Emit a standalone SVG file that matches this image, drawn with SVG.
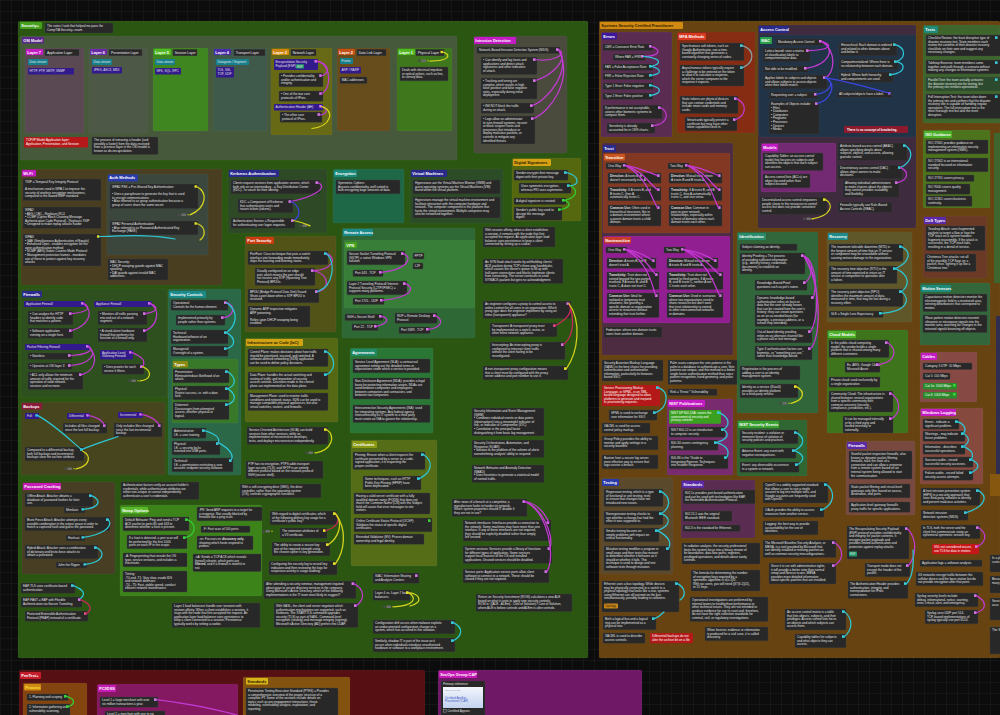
<svg xmlns="http://www.w3.org/2000/svg" width="1000" height="715" viewBox="0 0 1000 715">
<defs>
<pattern id="grid" width="11" height="11" patternUnits="userSpaceOnUse"><path d="M11 0H0V11" fill="none" stroke="#2c2c2c" stroke-width=".6"/></pattern>
<linearGradient id="card" x1="0" y1="0" x2="0" y2="1"><stop offset="0" stop-color="#f4f6fb"/><stop offset="1" stop-color="#c3d2f0"/></linearGradient>
<g id="hd"><circle cx="1.3" cy="1.3" r="1.3" fill="#4a4a4a"/><rect x="3.4" y="0" width="4.6" height="2.6" rx=".7" fill="#6c6c6c"/><circle cx="10" cy="1.3" r=".7" fill="#d6d41e"/></g>
</defs>
<style>
.grp{fill-opacity:.9;stroke:#fff;stroke-opacity:.07;stroke-width:.5}
.n{fill:#282828;stroke:#404040;stroke-width:.35}
.t{font-family:'Liberation Sans',Arial,sans-serif;font-size:3.1px;fill:#e2e2e2}
.tl{font-family:'Liberation Sans',Arial,sans-serif;font-size:3.3px;fill:#f0f0f0}
.b{font-family:'Liberation Sans',Arial,sans-serif;font-size:3.9px;font-weight:bold;fill:#fff}
.bk{font-family:'Liberation Sans',Arial,sans-serif;font-size:3.9px;font-weight:bold;fill:#2a1a00}
.c{fill:none;stroke-width:1.25;stroke-linecap:round}
.cm{stroke:#c23ad2}.cc{stroke:#2ec6d6}.cy{stroke:#d6d41e}.cb{stroke:#3c46e0}.cg{stroke:#34d034}.cr{stroke:#c8285a}.cw{stroke:#8aa0a4}
.pm{fill:#d47ae4}.pc{fill:#3ccbd8}.py{fill:#e6e428}.pg{fill:#3cd43c}.pr{fill:#e05080}
</style>
<rect width="1000" height="715" fill="#0c0c0c"/>
<rect width="1000" height="715" fill="url(#grid)"/>

<!-- ================= SECURITY+ ================= -->
<g id="security-plus"><rect class="grp" x="18" y="21" width="570" height="637" rx="1.5" fill="#2f5e13"/><rect x="20" y="22" width="22" height="7" rx="1" fill="#45a01e"/><text class="b" x="21.3" y="27">Security+</text></g>
<g id="n-intro"><rect class="n" x="45" y="23" width="68" height="10" rx="1"/><text class="t" x="47" y="26.9">The notes I took that helped me pass the<tspan x="47" dy="3.6">CompTIA Security+ exam.</tspan></text></g>

<g id="osi-model"><rect class="grp" x="20" y="36" width="437" height="124" rx="1.5" fill="#4a5a40"/><rect x="22" y="37" width="22" height="6.5" rx="1" fill="#5a2a8a"/><text class="b" x="23.2" y="41.8">OSI Model</text></g>

<g id="layer7"><rect class="grp" x="25" y="48" width="59" height="85" rx="1.5" fill="#5c4656"/>
<rect x="26" y="49" width="17" height="6" rx="1" fill="#c41cc4"/><text class="b" x="27.3" y="53.5">Layer 7</text>
<rect class="n" x="45" y="49.3" width="34" height="6.5"/><text class="tl" x="47" y="53.7">Application Layer</text>
<rect x="28" y="59" width="20" height="6" rx="1" fill="#17808e"/><text class="t" x="29.5" y="63.1">Data stream</text>
<rect x="28" y="68" width="46" height="6.5" rx="1" fill="#321a8c"/><text class="t" x="29.5" y="72.3">HTTP, FTP, SMTP, SNMP</text></g>

<g id="layer6"><rect class="grp" x="89" y="48" width="58" height="85" rx="1.5" fill="#4e5848"/>
<rect x="90" y="49" width="17" height="6" rx="1" fill="#6a2aa8"/><text class="b" x="91.3" y="53.5">Layer 6</text>
<rect class="n" x="109" y="49.3" width="33" height="6.5"/><text class="tl" x="111" y="53.7">Presentation Layer</text>
<rect x="92" y="59" width="20" height="6" rx="1" fill="#17808e"/><text class="t" x="93.5" y="63.1">Data stream</text>
<rect x="92" y="67" width="30" height="6.5" rx="1" fill="#321a8c"/><text class="t" x="93.5" y="71.3">JPEG, ASCII, MIDI</text></g>

<g id="layer5"><rect class="grp" x="153" y="48" width="55" height="83" rx="1.5" fill="#3e8a1e"/>
<rect x="154" y="49" width="17" height="6" rx="1" fill="#52b826"/><text class="b" x="155.3" y="53.5">Layer 5</text>
<rect class="n" x="173" y="49.3" width="24" height="6.5"/><text class="tl" x="174.7" y="53.7">Session Layer</text>
<rect x="155" y="59" width="20" height="6" rx="1" fill="#17808e"/><text class="t" x="156.5" y="63.1">Data stream</text>
<rect x="155" y="68" width="26" height="6.5" rx="1" fill="#321a8c"/><text class="t" x="156.5" y="72.3">NFS, SQL, RPC</text></g>

<g id="layer4"><rect class="grp" x="213" y="48" width="54" height="83" rx="1.5" fill="#3e5a4c"/>
<rect x="214" y="49" width="17" height="6" rx="1" fill="#4a2aa8"/><text class="b" x="215.3" y="53.5">Layer 4</text>
<rect class="n" x="234" y="49.3" width="31" height="6.5"/><text class="tl" x="235.7" y="53.7">Transport Layer</text>
<rect x="216" y="59" width="33" height="6" rx="1" fill="#17808e"/><text class="t" x="217.5" y="63.1">Datagram / Segment</text>
<rect x="216" y="67" width="18" height="10.5" rx="1" fill="#321a8c"/><text class="t" x="217.5" y="71.2">TLS, SSL<tspan x="217.5" dy="3.6">TCP, UDP</tspan></text></g>

<g id="layer3"><rect class="grp" x="271" y="48" width="61" height="87" rx="1.5" fill="#6a6a12"/>
<rect x="272" y="49" width="17" height="6" rx="1" fill="#d0860e"/><text class="b" x="273.3" y="53.5">Layer 3</text>
<rect class="n" x="291" y="49.3" width="25" height="6.5"/><text class="tl" x="292.7" y="53.7">Network Layer</text>
<rect x="274" y="59" width="44" height="11" rx="1" fill="#321a8c"/><text class="t" x="275.5" y="63">Encapsulation Security<tspan x="275.5" dy="3.6">Payload (ESP)</tspan></text><rect x="296" y="64.3" width="8" height="4.2" rx=".6" fill="#1f9a6a"/><text class="t" x="297" y="67.5" style="font-size:2.8px">ESP</text><rect class="pm" x="314.5" y="60" width="2.6" height="2.6"/></g>
<g id="n-esp1"><rect class="n" x="279" y="73" width="44" height="13.8" rx="1"/><text class="t" x="281" y="76.9">• Provides confidentiality<tspan x="281" dy="3.6">and/or authentication and</tspan><tspan x="281" dy="3.6">integrity.</tspan></text><rect class="pm" x="319.2" y="74.3" width="2.6" height="2.6"/></g>
<g id="n-esp2"><rect class="n" x="279" y="91" width="44" height="10.2" rx="1"/><text class="t" x="281" y="94.9">• One of the two core<tspan x="281" dy="3.6">protocols of IPsec.</tspan></text><rect class="pm" x="319.2" y="92.3" width="2.6" height="2.6"/></g>
<g id="n-ah"><rect x="274" y="104" width="49" height="6.5" rx="1" fill="#321a8c"/><text class="t" x="275.5" y="108.3">Authentication Header (AH)</text><rect class="pm" x="319.2" y="105" width="2.6" height="2.6"/></g>
<g id="n-ah1"><rect class="n" x="280" y="112" width="42" height="10.2" rx="1"/><text class="t" x="282" y="115.9">• The other core<tspan x="282" dy="3.6">protocol of IPsec.</tspan></text><rect class="pm" x="317.5" y="113.2" width="2.6" height="2.6"/></g>

<g id="layer2"><rect class="grp" x="337" y="48" width="53" height="83" rx="1.5" fill="#6a4a1a"/>
<rect x="338" y="49" width="17" height="6" rx="1" fill="#c4501a"/><text class="b" x="339.3" y="53.5">Layer 2</text>
<rect class="n" x="357" y="49.3" width="29" height="6.5"/><text class="tl" x="358.7" y="53.7">Data Link Layer</text>
<rect x="340" y="58" width="13" height="6" rx="1" fill="#17808e"/><text class="t" x="341.5" y="62.1">Frame</text>
<rect x="340" y="67" width="21" height="6.5" rx="1" fill="#321a8c"/><text class="t" x="341.5" y="71.3">ARP / RARP</text>
<rect class="n" x="340" y="77" width="27" height="6.5" rx="1"/><text class="t" x="341.8" y="81.3">MAC addresses</text></g>

<g id="layer1"><rect class="grp" x="397" y="48" width="55" height="83" rx="1.5" fill="#3e7a1a"/>
<rect x="398" y="49" width="17" height="6" rx="1" fill="#52b826"/><text class="b" x="399.3" y="53.5">Layer 1</text>
<rect class="n" x="416" y="49.3" width="28" height="6.5"/><text class="tl" x="417.7" y="53.7">Physical Layer</text><rect class="py" x="440.5" y="50.8" width="2.4" height="2.4"/>
<use href="#hd" x="418" y="59.5"/></g>
<g id="n-physical"><rect class="n" x="400" y="67" width="48" height="13.8" rx="1"/><text class="t" x="402" y="70.9">Deals with electrical impulses<tspan x="402" dy="3.6">or optical pulses, such as line,</tspan><tspan x="402" dy="3.6">to convey data.</tspan></text></g>

<g id="n-tcpip"><rect x="24" y="137" width="64" height="10.5" rx="1" fill="#b41818"/><text class="t" x="26" y="141" style="fill:#fff">TCP/IP Model Application layer:<tspan x="26" dy="3.6">Application, Presentation, and Session</tspan></text></g>
<g id="n-deencap"><rect class="n" x="92" y="137" width="66" height="17.5" rx="1"/><text class="t" x="94" y="140.9">The process of removing a header (and<tspan x="94" dy="3.6">possibly a footer) from the data received</tspan><tspan x="94" dy="3.6">from a previous layer in the OSI model is</tspan><tspan x="94" dy="3.6">known as de-encapsulation.</tspan></text></g>

<g id="intrusion-detection"><rect class="grp" x="474" y="36" width="93" height="117" rx="1.5" fill="#4e4a42"/><rect x="474" y="37" width="42" height="7" rx="1" fill="#c41cc4"/><text class="b" x="475.3" y="42">Intrusion Detection</text></g>
<g id="n-nids"><rect class="n" x="477" y="47" width="83" height="6.5" rx="1"/><text class="t" x="479" y="51.2">Network-Based Intrusion Detection System (NIDS)</text><rect class="pm" x="556" y="48.3" width="2.6" height="2.6"/></g>
<g id="n-nids1"><rect class="n" x="481" y="57" width="56" height="17.4" rx="1"/><text class="t" x="483" y="60.9">• Can identify and log hosts and<tspan x="483" dy="3.6">applications and detect attack</tspan><tspan x="483" dy="3.6">signatures and other indicators</tspan><tspan x="483" dy="3.6">of attack.</tspan></text><rect class="pm" x="533" y="58.3" width="2.6" height="2.6"/></g>
<g id="n-nids2"><rect class="n" x="481" y="78" width="56" height="21" rx="1"/><text class="t" x="483" y="81.9">• Tracking and tuning are<tspan x="483" dy="3.6">complex, which results in high</tspan><tspan x="483" dy="3.6">false positive and false negative</tspan><tspan x="483" dy="3.6">rates, especially during initial</tspan><tspan x="483" dy="3.6">deployment.</tspan></text><rect class="pm" x="533" y="79.3" width="2.6" height="2.6"/></g>
<g id="n-nids3"><rect class="n" x="481" y="103" width="53" height="10.2" rx="1"/><text class="t" x="483" y="106.9">• Will NOT block the traffic<tspan x="483" dy="3.6">during an attack.</tspan></text><rect class="pm" x="530" y="104.3" width="2.6" height="2.6"/></g>
<g id="n-nids4"><rect class="n" x="481" y="116" width="54" height="28" rx="1"/><text class="t" x="483" y="119.9">• Logs allow an administrator<tspan x="483" dy="3.6">to tune firewall systems, recover</tspan><tspan x="483" dy="3.6">or block suspect hosts and</tspan><tspan x="483" dy="3.6">processes that introduce or</tspan><tspan x="483" dy="3.6">deploy malicious packets, or</tspan><tspan x="483" dy="3.6">controls to mitigate any</tspan><tspan x="483" dy="3.6">identified threats.</tspan></text><rect class="pm" x="531" y="117.3" width="2.6" height="2.6"/></g>

<g id="wifi"><rect class="grp" x="21" y="169" width="201" height="116" rx="1.5" fill="#4e3c22"/><rect x="22" y="170" width="14" height="6.5" rx="1" fill="#c41cc4"/><text class="b" x="23.3" y="174.8">Wi-Fi</text></g>
<g id="n-tkip"><rect class="n" x="23" y="179" width="78" height="21.5" rx="1"/><text class="t" x="25" y="182.9">TKIP = Temporal Key Integrity Protocol<tspan x="25" dy="7.2">A mechanism used in WPA 1 to improve the</tspan><tspan x="25" dy="3.6">security of wireless encryption mechanisms,</tspan><tspan x="25" dy="3.6">compared to the flawed WEP standard.</tspan></text></g>
<g id="n-wpa2"><rect class="n" x="23" y="207" width="78" height="21.5" rx="1"/><text class="t" x="25" y="210.9">WPA2:<tspan x="25" dy="3.6">• AES / CBC - Replaces RC4</tspan><tspan x="25" dy="3.6">• CCMP (Cipher Block Chaining Message</tspan><tspan x="25" dy="3.6">Authentication Code Protocol) - Replaces TKIP</tspan><tspan x="25" dy="3.6">• Designed to make replay attacks harder</tspan></text></g>
<g id="n-wpa3"><rect class="n" x="23" y="234" width="78" height="32" rx="1"/><text class="t" x="25" y="237.9">WPA3:<tspan x="25" dy="3.6">• SAE (Simultaneous Authentication of Equals)</tspan><tspan x="25" dy="3.6">• Enhanced Open - enables encryption for the</tspan><tspan x="25" dy="3.6">open authentication method</tspan><tspan x="25" dy="3.6">• SCMP (AES) Galois Counter Mode Protocol</tspan><tspan x="25" dy="3.6">• Management protection frames - mandates</tspan><tspan x="25" dy="3.6">use of these to protect against key recovery</tspan><tspan x="25" dy="3.6">attacks</tspan></text><rect class="py" x="97" y="235.3" width="2.4" height="2.4"/></g>
<g id="auth-methods"><rect class="grp" x="107" y="174" width="101" height="81" rx="1.5" fill="#3a4840"/><rect x="108" y="174.5" width="30" height="7" rx="1" fill="#2a3aa8"/><text class="b" x="109.3" y="179.4">Auth Methods</text><use href="#hd" x="178" y="213.5"/></g>
<g id="n-psk"><rect class="n" x="110" y="184" width="88" height="24.5" rx="1"/><text class="t" x="112" y="187.9">WPA2 PSK = Pre-Shared Key Authentication<tspan x="112" dy="7.2">• Uses a passphrase to generate the key that is used</tspan><tspan x="112" dy="3.6">to encrypt communications</tspan><tspan x="112" dy="3.6">• Also referred to as group authentication because a</tspan><tspan x="112" dy="3.6">group of users share the same secret</tspan></text><rect class="py" x="194.5" y="185.3" width="2.4" height="2.4"/></g>
<g id="n-pake"><rect class="n" x="110" y="221" width="88" height="13.8" rx="1"/><text class="t" x="112" y="224.9">WPA2 Personal Authentication<tspan x="112" dy="3.6">• Also referred to as Password Authenticated Key</tspan><tspan x="112" dy="3.6">Exchange (PAKE)</tspan></text><rect class="py" x="194.5" y="222.3" width="2.4" height="2.4"/></g>
<g id="n-macsec"><rect class="n" x="108" y="259" width="60" height="21" rx="1"/><text class="t" x="110" y="262.9">MAC Security:<tspan x="110" dy="3.6">• DHCP snooping guards against MAC</tspan><tspan x="110" dy="3.6">spoofing.</tspan><tspan x="110" dy="3.6">• DAI guards against invalid MAC</tspan><tspan x="110" dy="3.6">addresses.</tspan></text></g>

<g id="kerberos"><rect class="grp" x="228" y="169" width="99" height="64" rx="1.5" fill="#2e4828"/><rect x="229" y="170" width="50" height="7" rx="1" fill="#2a2a8c"/><text class="b" x="230.3" y="175">Kerberos Authentication</text><use href="#hd" x="299" y="224.5"/></g>
<g id="n-krb1"><rect class="n" x="231" y="180" width="89" height="13.8" rx="1"/><text class="t" x="233" y="183.9">Clients request services from application servers, which<tspan x="233" dy="3.6">both rely on an intermediary - a Key Distribution Center</tspan><tspan x="233" dy="3.6">(KDC) - to vouch for their identity.</tspan></text><rect class="pm" x="315.5" y="181.3" width="2.6" height="2.6"/></g>
<g id="n-kdc"><rect class="n" x="238" y="199" width="55" height="13.8" rx="1"/><text class="t" x="240" y="202.9">KDC = Component of Kerberos<tspan x="240" dy="3.6">that authenticates users and</tspan><tspan x="240" dy="3.6">issues tickets (tokens).</tspan></text><rect class="pm" x="288.5" y="200.3" width="2.6" height="2.6"/></g>
<g id="n-as"><rect class="n" x="231" y="218" width="64" height="10.2" rx="1"/><text class="t" x="233" y="221.9">Authentication Service = Responsible<tspan x="233" dy="3.6">for authenticating user logon requests.</tspan></text><rect class="pm" x="291" y="219.3" width="2.6" height="2.6"/></g>

<g id="encryption"><rect class="grp" x="333" y="169" width="71" height="54" rx="1.5" fill="#1e6a4e"/><rect x="334" y="170" width="23" height="7" rx="1" fill="#1a8a7a"/><text class="b" x="335.3" y="175">Encryption</text></g>
<g id="n-sym"><rect class="n" x="336" y="180" width="64" height="13.8" rx="1"/><text class="t" x="338" y="183.9">Symmetric Ciphers:<tspan x="338" dy="3.6">Assures confidentiality, well suited to</tspan><tspan x="338" dy="3.6">bulk encrypting large amounts of data.</tspan></text></g>

<g id="virtual-machines"><rect class="grp" x="410" y="169" width="93" height="54" rx="1.5" fill="#2c4a2a"/><rect x="411" y="170" width="36" height="7" rx="1" fill="#2a2a8c"/><text class="b" x="412.3" y="175">Virtual Machines</text></g>
<g id="n-vm1"><rect class="n" x="413" y="180" width="87" height="13.8" rx="1"/><text class="t" x="415" y="183.9">Hypervisors are the Virtual Machine Monitor (VMM) and<tspan x="415" dy="3.6">guest operating systems are the Virtual Machines (VM)</tspan><tspan x="415" dy="3.6">found within the virtual platform.</tspan></text></g>
<g id="n-vm2"><rect class="n" x="413" y="197" width="87" height="21" rx="1"/><text class="t" x="415" y="200.9">Hypervisors manage the virtual machine environment and<tspan x="415" dy="3.6">facilitate interaction with the computer hardware and</tspan><tspan x="415" dy="3.6">network. The computer component is the platform that</tspan><tspan x="415" dy="3.6">hosts the virtual environment. Multiple computers may</tspan><tspan x="415" dy="3.6">also be networked together.</tspan></text></g>

<g id="digital-signatures"><rect class="grp" x="512" y="158" width="69" height="63" rx="1.5" fill="#5a6a10"/><rect x="513" y="159" width="38" height="7" rx="1" fill="#d4a014"/><text class="bk" x="514.3" y="164">Digital Signatures</text></g>
<g id="n-ds1"><rect class="n" x="514" y="170" width="54" height="10.2" rx="1"/><text class="t" x="516" y="173.9">Sender encrypts their message<tspan x="516" dy="3.6">digest with their private key.</tspan></text><rect class="pc" x="564" y="171.3" width="2.6" height="2.6"/></g>
<g id="n-ds2"><rect class="n" x="519" y="183" width="52" height="10.2" rx="1"/><text class="t" x="521" y="186.9">Uses symmetric encryption,<tspan x="521" dy="3.6">whereas PKI uses asymmetric.</tspan></text><rect class="pc" x="567" y="184.3" width="2.6" height="2.6"/></g>
<g id="n-ds3"><rect class="n" x="514" y="198" width="52" height="6.5" rx="1"/><text class="t" x="516" y="202.2">A digital signature is created.</text><rect class="pg" x="562" y="199" width="2.6" height="2.6"/></g>
<g id="n-ds4"><rect class="n" x="514" y="207" width="48" height="13.2" rx="1"/><text class="t" x="516" y="210.9">Sender's public key used to<tspan x="516" dy="3.6">decrypt the message</tspan><tspan x="516" dy="3.6">digest.</tspan></text><rect class="pg" x="558" y="208.3" width="2.6" height="2.6"/></g>

<g id="n-affinity"><rect class="n" x="483" y="227" width="72" height="20" rx="1"/><text class="t" x="485" y="230.9">With session affinity, when a client establishes<tspan x="485" dy="3.6">a session, it remains with the node that first</tspan><tspan x="485" dy="3.6">accepted the request. An application-layer load</tspan><tspan x="485" dy="3.6">balancer uses persistence to keep a client</tspan><tspan x="485" dy="3.6">connected by setting up a cookie.</tspan></text></g>
<g id="n-synflood"><rect class="n" x="483" y="259" width="80" height="24.5" rx="1"/><text class="t" x="485" y="262.9">An SYN flood attack works by withholding clients'<tspan x="485" dy="3.6">ACK packets during TCP's three-way handshake,</tspan><tspan x="485" dy="3.6">which causes the server's queue to fill up with</tspan><tspan x="485" dy="3.6">half-open connections and blocks legitimate clients</tspan><tspan x="485" dy="3.6">from connecting. The server continues to send</tspan><tspan x="485" dy="3.6">SYN/ACK packets but gets no acknowledgment.</tspan></text></g>
<g id="n-proxyq"><rect class="n" x="483" y="301" width="88" height="17.4" rx="1"/><text class="t" x="485" y="304.9">An engineer configures a proxy to control access to<tspan x="485" dy="3.6">online content for all users in an organization. Which</tspan><tspan x="485" dy="3.6">proxy type does the engineer implement by using an</tspan><tspan x="485" dy="3.6">inline (transparent) appliance?</tspan></text><rect class="pm" x="566.5" y="302.3" width="2.6" height="2.6"/></g>
<g id="n-transparent"><rect class="n" x="490" y="323" width="67" height="13.8" rx="1"/><text class="t" x="492" y="326.9">Transparent: A transparent proxy must<tspan x="492" dy="3.6">be implemented on a switch, router, or</tspan><tspan x="492" dy="3.6">other inline network appliance.</tspan></text><rect class="pr" x="553" y="324.3" width="2.6" height="2.6"/></g>
<g id="n-intercept"><rect class="n" x="490" y="342" width="75" height="17.4" rx="1"/><text class="t" x="492" y="345.9">Intercepting: An intercepting proxy is<tspan x="492" dy="3.6">configured to intercept client traffic</tspan><tspan x="492" dy="3.6">without the client having to be</tspan><tspan x="492" dy="3.6">reconfigured.</tspan></text><rect class="pm" x="561" y="343.3" width="2.6" height="2.6"/></g>
<g id="n-nontransparent"><rect class="n" x="483" y="366" width="85" height="13.8" rx="1"/><text class="t" x="485" y="369.9">A non-transparent proxy configuration means<tspan x="485" dy="3.6">that a client must be configured with the proxy</tspan><tspan x="485" dy="3.6">server address and port number to use it.</tspan></text><rect class="py" x="564" y="367.3" width="2.6" height="2.6"/></g>
<g id="n-siem"><rect class="n" x="472" y="408" width="72" height="28" rx="1"/><text class="t" x="474" y="411.9">Security Information and Event Management<tspan x="474" dy="3.6">(SIEM)</tspan><tspan x="474" dy="3.6">• Combines individual events or data points</tspan><tspan x="474" dy="3.6">(observations) into a meaningful indicator of</tspan><tspan x="474" dy="3.6">risk, or Indicator of Compromise (IOC)</tspan><tspan x="474" dy="3.6">• Correlation is the principal factor</tspan><tspan x="474" dy="3.6">distinguishing it from basic log management</tspan></text></g>
<g id="n-soar"><rect class="n" x="472" y="440" width="72" height="17.4" rx="1"/><text class="t" x="474" y="443.9">Security Orchestration, Automation, and<tspan x="474" dy="3.6">Response (SOAR)</tspan><tspan x="474" dy="3.6">• Solution to the problem of the volume of alerts</tspan><tspan x="474" dy="3.6">overwhelming analysts' ability to respond</tspan></text></g>
<g id="n-nbad"><rect class="n" x="472" y="465" width="72" height="17.4" rx="1"/><text class="t" x="474" y="468.9">Network Behavior and Anomaly Detection<tspan x="474" dy="3.6">(NBAD)</tspan><tspan x="474" dy="3.6">• Uses heuristics to generate a statistical model</tspan><tspan x="474" dy="3.6">of normal traffic.</tspan></text></g>
<g id="n-breach"><rect class="n" x="452" y="499" width="75" height="17.4" rx="1"/><text class="t" x="454" y="502.9">After news of a breach at a competitor, a<tspan x="454" dy="3.6">manufacturer looks to harden its network.</tspan><tspan x="454" dy="3.6">Which system properties should IT disable if</tspan><tspan x="454" dy="3.6">they are not in use?</tspan></text><rect class="pm" x="522.5" y="500.3" width="2.6" height="2.6"/></g>
<g id="n-netif"><rect class="n" x="463" y="520" width="88" height="21" rx="1"/><text class="t" x="465" y="523.9">Network interfaces: Interfaces provide a connection to<tspan x="465" dy="3.6">the network. Some machines may have more than one</tspan><tspan x="465" dy="3.6">interface. If any of these interfaces are not required,</tspan><tspan x="465" dy="3.6">they should be explicitly disabled rather than simply</tspan><tspan x="465" dy="3.6">left unused.</tspan></text><rect class="pm" x="546.5" y="521.3" width="2.6" height="2.6"/></g>
<g id="n-services"><rect class="n" x="463" y="546" width="89" height="17.4" rx="1"/><text class="t" x="465" y="549.9">System services: Services provide a library of functions<tspan x="465" dy="3.6">for different types of application. Some services</tspan><tspan x="465" dy="3.6">support local features of the OS and installed</tspan><tspan x="465" dy="3.6">applications. Unused services should be disabled.</tspan></text><rect class="pm" x="547.5" y="547.3" width="2.6" height="2.6"/></g>
<g id="n-ports"><rect class="n" x="463" y="569" width="86" height="13.8" rx="1"/><text class="t" x="465" y="572.9">Service ports: Application service ports allow client<tspan x="465" dy="3.6">software to connect to a network. These should be</tspan><tspan x="465" dy="3.6">closed if they are not required.</tspan></text><rect class="pm" x="544.5" y="570.3" width="2.6" height="2.6"/></g>
<g id="n-rosi"><rect class="n" x="476" y="594" width="96" height="17.4" rx="1"/><text class="t" x="478" y="597.9">Return on Security Investment (ROSI) calculates a new ALE<tspan x="478" dy="3.6">based on what it costs to apply new security controls.</tspan><tspan x="478" dy="3.6">ROSI is: ((ALE - ALEm) - Cost of Solution) / Cost of Solution,</tspan><tspan x="478" dy="3.6">where ALE is before controls and ALEm is after controls.</tspan></text></g>

<g id="firewalls-secplus"><rect class="grp" x="21" y="289" width="146" height="108" rx="1.5" fill="#2d5020"/><rect x="22" y="291" width="20" height="6.5" rx="1" fill="#2a2a8c"/><text class="b" x="23.3" y="295.8">Firewalls</text><use href="#hd" x="128" y="379.5"/></g>
<g id="n-appfw"><rect x="24" y="301" width="61" height="6" rx="1" fill="#321a8c"/><text class="t" x="26" y="305">Application Firewall</text><rect class="pm" x="81" y="302.2" width="2.4" height="2.4"/></g>
<g id="n-appfw1"><rect class="n" x="28" y="311" width="45" height="13.8" rx="1"/><text class="t" x="30" y="314.9">• Can analyze the HTTP<tspan x="30" dy="3.6">headers to identify code</tspan><tspan x="30" dy="3.6">that matches a pattern.</tspan></text><rect class="pm" x="69" y="312.3" width="2.6" height="2.6"/></g>
<g id="n-appfw2"><rect class="n" x="28" y="328" width="45" height="10.2" rx="1"/><text class="t" x="30" y="331.9">• Software application<tspan x="30" dy="3.6">running on a single host.</tspan></text><rect class="pm" x="69" y="329.3" width="2.6" height="2.6"/></g>
<g id="n-appliancefw"><rect x="94" y="301" width="58" height="6" rx="1" fill="#321a8c"/><text class="t" x="96" y="305">Appliance Firewall</text><rect class="pm" x="148" y="302.2" width="2.4" height="2.4"/></g>
<g id="n-appliancefw1"><rect class="n" x="98" y="311" width="49" height="13.8" rx="1"/><text class="t" x="100" y="314.9">• Monitors all traffic passing<tspan x="100" dy="3.6">into and out of a network</tspan><tspan x="100" dy="3.6">segment.</tspan></text><rect class="pm" x="143" y="312.3" width="2.6" height="2.6"/></g>
<g id="n-appliancefw2"><rect class="n" x="98" y="328" width="49" height="13.8" rx="1"/><text class="t" x="100" y="331.9">• A stand-alone hardware<tspan x="100" dy="3.6">firewall that performs the</tspan><tspan x="100" dy="3.6">function of a firewall only.</tspan></text><rect class="pm" x="143" y="329.3" width="2.6" height="2.6"/></g>
<g id="n-pff"><rect x="25" y="344" width="65" height="6" rx="1" fill="#321a8c"/><text class="t" x="27" y="348">Packet Filtering Firewall</text><rect class="pm" x="86" y="345.2" width="2.4" height="2.4"/></g>
<g id="n-pff1"><rect class="n" x="28" y="353" width="44" height="6.5" rx="1"/><text class="t" x="30" y="357.2">• Stateless</text><rect class="pm" x="68" y="354.2" width="2.6" height="2.6"/></g>
<g id="n-pff2"><rect class="n" x="28" y="363" width="44" height="6.5" rx="1"/><text class="t" x="30" y="367.2">• Operates at OSI layer 3</text><rect class="pm" x="68" y="364.2" width="2.6" height="2.6"/></g>
<g id="n-pff3"><rect class="n" x="28" y="372" width="55" height="17.4" rx="1"/><text class="t" x="30" y="375.9">• ACL only allows the minimum<tspan x="30" dy="3.6">amount of traffic required for the</tspan><tspan x="30" dy="3.6">operation of valid network</tspan><tspan x="30" dy="3.6">services and no more.</tspan></text><rect class="pm" x="79" y="373.3" width="2.6" height="2.6"/></g>
<g id="n-alg"><rect x="100" y="350" width="33" height="9.5" rx="1" fill="#321a8c"/><text class="t" x="102" y="353.8">Application Level<tspan x="102" dy="3.6">Gateway Firewall</tspan></text><rect class="pm" x="129" y="351.2" width="2.4" height="2.4"/></g>
<g id="n-alg1"><rect class="n" x="102" y="364" width="42" height="10.2" rx="1"/><text class="t" x="104" y="367.9">• Uses proxies for each<tspan x="104" dy="3.6">service it filters.</tspan></text><rect class="pm" x="140" y="365.3" width="2.6" height="2.6"/></g>

<g id="security-controls"><rect class="grp" x="168" y="289" width="73" height="186" rx="1.5" fill="#2a6a4e"/><rect x="169" y="291" width="37" height="7" rx="1" fill="#1a8a8a"/><text class="b" x="170.3" y="296">Security Controls</text></g>
<g id="n-operational"><rect class="n" x="171" y="300" width="57" height="10.2" rx="1"/><text class="t" x="173" y="303.9">Operational:<tspan x="173" dy="3.6">Controls for the human element.</tspan></text><rect class="pm" x="224" y="301.3" width="2.6" height="2.6"/></g>
<g id="n-implemented"><rect class="n" x="176" y="315" width="49" height="10.2" rx="1"/><text class="t" x="178" y="318.9">Implemented primarily by<tspan x="178" dy="3.6">people rather than systems.</tspan></text><rect class="pm" x="221" y="316.3" width="2.6" height="2.6"/></g>
<g id="n-technical"><rect class="n" x="171" y="330" width="57" height="13.8" rx="1"/><text class="t" x="173" y="333.9">Technical:<tspan x="173" dy="3.6">Hardware/software of an</tspan><tspan x="173" dy="3.6">organization.</tspan></text><rect class="pc" x="224" y="331.3" width="2.6" height="2.6"/></g>
<g id="n-managerial"><rect class="n" x="171" y="346" width="57" height="10.2" rx="1"/><text class="t" x="173" y="349.9">Managerial:<tspan x="173" dy="3.6">Oversight of a system.</tspan></text><rect class="pc" x="224" y="347.3" width="2.6" height="2.6"/></g>
<g id="types"><rect class="grp" x="172" y="359" width="66" height="64" rx="1.5" fill="#3a7a26"/><rect x="173" y="361" width="15" height="6.5" rx="1" fill="#8a8a12"/><text class="b" x="174.3" y="365.8">Types</text></g>
<g id="n-preventative"><rect class="n" x="173" y="369" width="56" height="13.8" rx="1"/><text class="t" x="175" y="372.9">Preventative:<tspan x="175" dy="3.6">Eliminate/reduce likelihood of an</tspan><tspan x="175" dy="3.6">attack.</tspan></text><rect class="pc" x="225" y="370.3" width="2.6" height="2.6"/></g>
<g id="n-physical-ctl"><rect class="n" x="173" y="386" width="56" height="13.8" rx="1"/><text class="t" x="175" y="389.9">Physical:<tspan x="175" dy="3.6">Restrict access, i.e. with a door</tspan><tspan x="175" dy="3.6">lock.</tspan></text><rect class="pc" x="225" y="387.3" width="2.6" height="2.6"/></g>
<g id="n-deterrent"><rect class="n" x="173" y="402" width="56" height="17.4" rx="1"/><text class="t" x="175" y="405.9">Deterrent:<tspan x="175" dy="3.6">Discourages from attempted</tspan><tspan x="175" dy="3.6">access, whether physical or</tspan><tspan x="175" dy="3.6">logical.</tspan></text><rect class="pc" x="225" y="403.3" width="2.6" height="2.6"/></g>
<g id="n-administrative"><rect class="n" x="172" y="428" width="34" height="10.2" rx="1"/><text class="t" x="174" y="431.9">Administrative:<tspan x="174" dy="3.6">I.E. = user training</tspan></text><rect class="pc" x="202" y="429.3" width="2.6" height="2.6"/></g>
<g id="n-physical2"><rect class="n" x="172" y="441" width="48" height="13.8" rx="1"/><text class="t" x="174" y="444.9">Physical:<tspan x="174" dy="3.6">I.E. = security locks</tspan><tspan x="174" dy="3.6">inserted into USB ports.</tspan></text><rect class="pc" x="216" y="442.3" width="2.6" height="2.6"/></g>
<g id="n-technical2"><rect class="n" x="172" y="458" width="61" height="13.8" rx="1"/><text class="t" x="174" y="461.9">Technical:<tspan x="174" dy="3.6">I.E. = permissions restricting a user</tspan><tspan x="174" dy="3.6">account; endpoint security software</tspan></text><rect class="pc" x="229" y="459.3" width="2.6" height="2.6"/></g>

<g id="backups"><rect class="grp" x="21" y="402" width="144" height="73" rx="1.5" fill="#4a4420"/><rect x="22" y="403" width="20" height="6.5" rx="1" fill="#8a1a3a"/><text class="b" x="23.3" y="407.8">Backups</text><use href="#hd" x="64" y="467.5"/></g>
<g id="n-full"><rect x="25" y="413" width="14" height="6" rx="1" fill="#321a8c"/><text class="t" x="27" y="417">Full</text><rect class="pc" x="35.3" y="414.2" width="2.4" height="2.4"/></g>
<g id="n-differential"><rect x="67" y="413" width="23" height="6" rx="1" fill="#321a8c"/><text class="t" x="69" y="417">Differential</text><rect class="pm" x="86.3" y="414.2" width="2.4" height="2.4"/></g>
<g id="n-incremental"><rect x="118" y="412" width="25" height="6" rx="1" fill="#321a8c"/><text class="t" x="120" y="416">Incremental</text><rect class="pm" x="139.3" y="413.2" width="2.4" height="2.4"/></g>
<g id="n-diff1"><rect class="n" x="63" y="423" width="44" height="10.2" rx="1"/><text class="t" x="65" y="426.9">Includes all files changed<tspan x="65" dy="3.6">since the last full backup.</tspan></text><rect class="pm" x="103" y="424.3" width="2.6" height="2.6"/></g>
<g id="n-incr1"><rect class="n" x="114" y="423" width="48" height="13.8" rx="1"/><text class="t" x="116" y="426.9">Only includes files changed<tspan x="116" dy="3.6">since the last incremental</tspan><tspan x="116" dy="3.6">backup.</tspan></text><rect class="pm" x="158" y="424.3" width="2.6" height="2.6"/></g>
<g id="n-archive"><rect class="n" x="25" y="447" width="59" height="13.8" rx="1"/><text class="t" x="27" y="450.9">Compared to a differential backup,<tspan x="27" dy="3.6">both full backups and incremental</tspan><tspan x="27" dy="3.6">backups clear the archive attribute.</tspan></text><rect class="pc" x="80" y="448.3" width="2.6" height="2.6"/></g>

<g id="password-cracking"><rect class="grp" x="22" y="482" width="93" height="92" rx="1.5" fill="#4a3c26"/><rect x="23" y="483" width="38" height="7" rx="1" fill="#c41cb4"/><text class="b" x="24.3" y="488">Password Cracking</text></g>
<g id="n-offline"><rect class="n" x="25" y="493" width="68" height="13.8" rx="1"/><text class="t" x="27" y="496.9">Offline Attack: Attacker obtains a<tspan x="27" dy="3.6">database of password hashes for later</tspan><tspan x="27" dy="3.6">use.</tspan></text><rect class="pc" x="89" y="494.3" width="2.6" height="2.6"/></g>
<g id="n-mimikatz"><rect class="n" x="64" y="507" width="21" height="6" rx="1"/><text class="t" x="66" y="511">Mimikatz</text><rect class="pc" x="81.5" y="508.2" width="2.4" height="2.4"/></g>
<g id="n-brute"><rect class="n" x="25" y="517" width="85" height="13.8" rx="1"/><text class="t" x="27" y="520.9">Brute Force Attack: Attacker attempts every<tspan x="27" dy="3.6">possible combination in the output space in order to</tspan><tspan x="27" dy="3.6">match a captured hash and guess the password.</tspan></text><rect class="pc" x="106" y="518.3" width="2.6" height="2.6"/></g>
<g id="n-hashcat"><rect class="n" x="66" y="535" width="19" height="6" rx="1"/><text class="t" x="68" y="539">Hashcat</text><rect class="pc" x="81.5" y="536.2" width="2.4" height="2.4"/></g>
<g id="n-hybrid"><rect class="n" x="25" y="545" width="73" height="13.8" rx="1"/><text class="t" x="27" y="548.9">Hybrid Attack: Attacker uses a combination<tspan x="27" dy="3.6">of dictionary and brute-force attacks to</tspan><tspan x="27" dy="3.6">obtain a password.</tspan></text><rect class="pc" x="94" y="546.3" width="2.6" height="2.6"/></g>
<g id="n-john"><rect class="n" x="56" y="562" width="31" height="6" rx="1"/><text class="t" x="58" y="566">John the Ripper</text><rect class="pc" x="83.5" y="563.2" width="2.4" height="2.4"/></g>
<g id="n-authfactors"><rect class="n" x="121" y="482" width="78" height="17.4" rx="1"/><text class="t" x="123" y="485.9">Authentication factors verify an account holder's<tspan x="123" dy="3.6">credentials, while authentication attributes are</tspan><tspan x="123" dy="3.6">either non-unique or cannot independently</tspan><tspan x="123" dy="3.6">authenticate a user's credentials.</tspan></text></g>

<g id="nmap-options"><rect class="grp" x="120" y="505" width="142" height="91" rx="1.5" fill="#3e8a1c"/><rect x="121" y="507" width="27" height="6.5" rx="1" fill="#5ab82c"/><text class="b" x="122.3" y="511.8">Nmap Options</text></g>
<g id="n-nmap-default"><rect class="n" x="123" y="517" width="66" height="13.8" rx="1"/><text class="t" x="125" y="520.9">Default Behavior: Ping and send a TCP<tspan x="125" dy="3.6">ACK packet to ports 80 and 443 to</tspan><tspan x="125" dy="3.6">determine whether a host is present.</tspan></text><rect class="pg" x="185" y="518.3" width="2.6" height="2.6"/></g>
<g id="n-nmap-host"><rect class="n" x="127" y="535" width="60" height="13.8" rx="1"/><text class="t" x="129" y="538.9">If a host is detected, a port scan will<tspan x="129" dy="3.6">be performed for the first 1000</tspan><tspan x="129" dy="3.6">ports on each IP in the scope.</tspan></text><rect class="pg" x="183" y="536.3" width="2.6" height="2.6"/></g>
<g id="n-nmap-a"><rect class="n" x="123" y="553" width="64" height="13.8" rx="1"/><text class="t" x="125" y="556.9">-A: Fingerprinting that reveals the OS<tspan x="125" dy="3.6">type, service versions, and includes a</tspan><tspan x="125" dy="3.6">traceroute.</tspan></text></g>
<g id="n-nmap-timing"><rect class="n" x="123" y="571" width="64" height="21" rx="1"/><text class="t" x="125" y="574.9">Timing:<tspan x="125" dy="3.6">-T0 and -T1: Very slow, evade IDS</tspan><tspan x="125" dy="3.6">and network defenses</tspan><tspan x="125" dy="3.6">-T4, -T5: Fast, stable speed, conduct</tspan><tspan x="125" dy="3.6">efficient network maintenance</tspan></text></g>
<g id="n-nmap-pr"><rect class="n" x="197" y="507" width="65" height="13.8" rx="1"/><text class="t" x="199" y="510.9">-PR: Send ARP requests to a target for<tspan x="199" dy="3.6">a response. Not usually blocked by</tspan><tspan x="199" dy="3.6">firewalls like a ping scan.</tspan></text></g>
<g id="n-nmap-f"><rect class="n" x="201" y="526" width="49" height="6.5" rx="1"/><text class="t" x="203" y="530.2">-F: Fast scan of 100 ports.</text></g>
<g id="n-nmap-sn"><rect class="n" x="197" y="536" width="56" height="13.8" rx="1"/><text class="t" x="199" y="539.9">-sn: Focuses on <tspan font-weight="bold">discovery only</tspan>,<tspan x="199" dy="3.6">showing which hosts respond to</tspan><tspan x="199" dy="3.6">probes.</tspan></text></g>
<g id="n-nmap-sa"><rect class="n" x="193" y="554" width="68" height="17.4" rx="1"/><text class="t" x="195" y="557.9">-sA: Sends a TCP ACK which reveals<tspan x="195" dy="3.6">firewall rulesets, which ports are</tspan><tspan x="195" dy="3.6"><tspan font-weight="bold">filtered</tspan>, and if a firewall is stateful or</tspan><tspan x="195" dy="3.6">not.</tspan></text></g>

<g id="n-eaptls"><rect class="n" x="21" y="583" width="54" height="10.2" rx="1"/><text class="t" x="23" y="586.9">EAP-TLS uses certificate-based<tspan x="23" dy="3.6">authentication.</tspan></text><rect class="pc" x="71" y="584.3" width="2.6" height="2.6"/></g>
<g id="n-eapfast"><rect class="n" x="21" y="597" width="61" height="10.2" rx="1"/><text class="t" x="23" y="600.9">EAP-FAST = EAP with Flexible<tspan x="23" dy="3.6">Authentication via Secure Tunneling</tspan></text><rect class="pm" x="78" y="598.3" width="2.6" height="2.6"/></g>
<g id="n-peap"><rect class="n" x="25" y="611" width="63" height="10.2" rx="1"/><text class="t" x="27" y="614.9">Protected Extensible Authentication<tspan x="27" dy="3.6">Protocol (PEAP) instead of a certificate.</tspan></text><rect class="pr" x="84" y="612.3" width="2.6" height="2.6"/></g>
<g id="n-l4lb"><rect class="n" x="172" y="603" width="88" height="24.5" rx="1"/><text class="t" x="174" y="606.9">Layer 4 load balancers handle user sessions with<tspan x="174" dy="3.6">session affinity. When a client establishes a session, it</tspan><tspan x="174" dy="3.6">stays with the node that first accepted the request. An</tspan><tspan x="174" dy="3.6">application-layer load balancer uses persistence to</tspan><tspan x="174" dy="3.6">keep a client connected to a session. Persistence</tspan><tspan x="174" dy="3.6">typically works by setting a cookie.</tspan></text></g>

<g id="port-security"><rect class="grp" x="245" y="236" width="91" height="96" rx="1.5" fill="#565418"/><rect x="246" y="237" width="28" height="7" rx="1" fill="#c83c12"/><text class="b" x="247.3" y="242">Port Security</text></g>
<g id="n-portfast"><rect class="n" x="248" y="251" width="80" height="13.8" rx="1"/><text class="t" x="250" y="254.9">PortFast: Cisco technique that puts a switch<tspan x="250" dy="3.6">interface into forwarding mode immediately;</tspan><tspan x="250" dy="3.6">skips the learning and listening states.</tspan></text><rect class="pc" x="324" y="252.3" width="2.6" height="2.6"/></g>
<g id="n-edgeport"><rect class="n" x="255" y="268" width="60" height="17.4" rx="1"/><text class="t" x="257" y="271.9">Usually configured on an edge<tspan x="257" dy="3.6">port, which means the port should</tspan><tspan x="257" dy="3.6">not receive any STP (Spanning Tree</tspan><tspan x="257" dy="3.6">Protocol) BPDUs.</tspan></text><rect class="pm" x="311" y="269.3" width="2.6" height="2.6"/></g>
<g id="n-bpdu"><rect class="n" x="248" y="289" width="71" height="13.8" rx="1"/><text class="t" x="250" y="292.9">BPDU (Bridge Protocol Data Unit) Guard:<tspan x="250" dy="3.6">Shuts a port down when a STP BPDU is</tspan><tspan x="250" dy="3.6">received.</tspan></text><rect class="pm" x="315" y="290.3" width="2.6" height="2.6"/></g>
<g id="n-dai"><rect class="n" x="248" y="306" width="62" height="21" rx="1"/><text class="t" x="250" y="309.9">Dynamic ARP inspection mitigates<tspan x="250" dy="3.6">ARP poisoning.</tspan><tspan x="250" dy="7.2">Relies upon DHCP snooping being</tspan><tspan x="250" dy="3.6">enabled.</tspan></text></g>

<g id="iac"><rect class="grp" x="245" y="338" width="93" height="84" rx="1.5" fill="#5a6a14"/><rect x="246" y="339" width="57" height="7" rx="1" fill="#d0a414"/><text class="bk" x="247.3" y="344">Infrastructure as Code (IaC)</text></g>
<g id="n-control-plane"><rect class="n" x="248" y="349" width="80" height="17.4" rx="1"/><text class="t" x="250" y="352.9">Control Plane: makes decisions about how traffic<tspan x="250" dy="3.6">should be prioritized, secured, and switched. A</tspan><tspan x="250" dy="3.6">software-defined networking (SDN) application</tspan><tspan x="250" dy="3.6">can be used to define policy decisions.</tspan></text><rect class="pc" x="324" y="350.3" width="2.6" height="2.6"/></g>
<g id="n-data-plane"><rect class="n" x="248" y="372" width="80" height="17.4" rx="1"/><text class="t" x="250" y="375.9">Data Plane: handles the actual switching and<tspan x="250" dy="3.6">routing of traffic and imposition of security</tspan><tspan x="250" dy="3.6">access controls. Decisions made in the control</tspan><tspan x="250" dy="3.6">plane are implemented on the data plane.</tspan></text><rect class="pc" x="324" y="373.3" width="2.6" height="2.6"/></g>
<g id="n-mgmt-plane"><rect class="n" x="248" y="393" width="80" height="17.4" rx="1"/><text class="t" x="250" y="396.9">Management Plane: used to monitor traffic<tspan x="250" dy="3.6">conditions and network status. SDN can be used to</tspan><tspan x="250" dy="3.6">manage compatible physical appliances, but also</tspan><tspan x="250" dy="3.6">virtual switches, routers, and firewalls.</tspan></text></g>
<g id="n-soa"><rect class="n" x="247" y="427" width="81" height="17.4" rx="1"/><text class="t" x="249" y="430.9">Service-Oriented Architecture (SOA) can build<tspan x="249" dy="3.6">services from other services, while an</tspan><tspan x="249" dy="3.6">implementation of microservices develops,</tspan><tspan x="249" dy="3.6">tests, and deploys microservices independently.</tspan></text><rect class="py" x="324" y="428.3" width="2.6" height="2.6"/></g>
<use href="#hd" x="305" y="451.5"/>
<g id="n-ftp"><rect class="n" x="246" y="461" width="77" height="17.4" rx="1"/><text class="t" x="248" y="464.9">FTP has no encryption, FTPS adds transport<tspan x="248" dy="3.6">layer security (TLS), and SFTP is an entirely</tspan><tspan x="248" dy="3.6">different protocol based on the network protocol</tspan><tspan x="248" dy="3.6">SSH (secure shell).</tspan></text></g>
<g id="n-sed"><rect class="n" x="240" y="484" width="81" height="13.8" rx="1"/><text class="t" x="242" y="487.9">With a self-encrypting drive (SED), the drive<tspan x="242" dy="3.6">controller, rather than the operating system</tspan><tspan x="242" dy="3.6">(OS), controls cryptographic functions.</tspan></text></g>

<g id="remote-access"><rect class="grp" x="342" y="228" width="133" height="110" rx="1.5" fill="#2f6a3a"/><rect x="343" y="229" width="30" height="7" rx="1" fill="#1a8a8a"/><text class="b" x="344.3" y="234">Remote Access</text></g>
<g id="vpn"><rect class="grp" x="344" y="240" width="131" height="68" rx="1.5" fill="#3a8038"/><rect x="345" y="242" width="12" height="6" rx="1" fill="#45a01e"/><text class="b" x="346.3" y="246.5">VPN</text></g>
<g id="n-sstp"><rect class="n" x="347" y="251" width="58" height="13.8" rx="1"/><text class="t" x="349" y="254.9">Secure Socket Tunneling Protocol<tspan x="349" dy="3.6">(SSTP) = native Windows VPN</tspan><tspan x="349" dy="3.6">solution</tspan></text><rect class="pm" x="401" y="252.3" width="2.6" height="2.6"/></g>
<g id="n-pptp"><rect class="n" x="413" y="253" width="11" height="6" rx="1"/><text class="t" x="414.5" y="257">PPTP</text></g>
<g id="n-l2f"><rect class="n" x="413" y="263" width="10" height="6" rx="1"/><text class="t" x="414.8" y="267">L2F</text></g>
<g id="n-p443"><rect class="n" x="353" y="270" width="30" height="6.5" rx="1"/><text class="t" x="355" y="274.2">Port 443 - TCP</text><rect class="pm" x="379" y="271" width="2.6" height="2.6"/></g>
<g id="n-l2tp"><rect class="n" x="347" y="281" width="60" height="13.8" rx="1"/><text class="t" x="349" y="284.9">Layer 2 Tunneling Protocol/ Internet<tspan x="349" dy="3.6">Protocol Security (L2TP/IPSEC) =</tspan><tspan x="349" dy="3.6">supports many platforms.</tspan></text><rect class="pm" x="403" y="282.3" width="2.6" height="2.6"/></g>
<g id="n-p1701"><rect class="n" x="353" y="298" width="31" height="6.5" rx="1"/><text class="t" x="355" y="302.2">Port 1701 - UDP</text><rect class="pm" x="380" y="299" width="2.6" height="2.6"/></g>
<g id="n-ssh"><rect class="n" x="345" y="314" width="38" height="6.5" rx="1"/><text class="t" x="347" y="318.2">SSH = Secure Shell</text><rect class="pm" x="379" y="315" width="2.6" height="2.6"/></g>
<g id="n-p22"><rect class="n" x="352" y="324" width="26" height="6.5" rx="1"/><text class="t" x="354" y="328.2">Port 22 - TCP</text><rect class="pm" x="374" y="325" width="2.6" height="2.6"/></g>
<g id="n-rdp"><rect class="n" x="395" y="313" width="42" height="10.2" rx="1"/><text class="t" x="397" y="316.9">RDP = Remote Desktop<tspan x="397" dy="3.6">Protocol</tspan></text><rect class="pm" x="433" y="314.3" width="2.6" height="2.6"/></g>
<g id="n-p3389"><rect class="n" x="399" y="327" width="31" height="6.5" rx="1"/><text class="t" x="401" y="331.2">Port 3389 - TCP</text><rect class="pm" x="426" y="328" width="2.6" height="2.6"/></g>

<g id="agreements"><rect class="grp" x="350" y="348" width="83" height="85" rx="1.5" fill="#2a7a3a"/><rect x="351" y="349" width="26" height="7" rx="1" fill="#1f8a6a"/><text class="b" x="352.3" y="354">Agreements</text></g>
<g id="n-sla"><rect class="n" x="353" y="359" width="77" height="13.8" rx="1"/><text class="t" x="355" y="362.9">Service Level Agreement (SLA): a contractual<tspan x="355" dy="3.6">agreement setting out the detailed terms or</tspan><tspan x="355" dy="3.6">expectations under which a service is provided.</tspan></text></g>
<g id="n-nda"><rect class="n" x="353" y="378" width="77" height="21" rx="1"/><text class="t" x="355" y="381.9">Non-Disclosure Agreement (NDA): provides a legal<tspan x="355" dy="3.6">basis for protecting information assets. NDAs are</tspan><tspan x="355" dy="3.6">used between companies and employees,</tspan><tspan x="355" dy="3.6">between companies and contractors, and</tspan><tspan x="355" dy="3.6">between two companies.</tspan></text></g>
<g id="n-isa"><rect class="n" x="353" y="405" width="77" height="17.4" rx="1"/><text class="t" x="355" y="408.9">Interconnection Security Agreements (ISA): used<tspan x="355" dy="3.6">for integrating systems. Any federal agency</tspan><tspan x="355" dy="3.6">interconnecting its IT system to a third party</tspan><tspan x="355" dy="3.6">must create an ISA to govern the relationship.</tspan></text></g>

<g id="certificates"><rect class="grp" x="351" y="440" width="86" height="126" rx="1.5" fill="#5a7018"/><rect x="352" y="441" width="25" height="7" rx="1" fill="#8a9a14"/><text class="b" x="353.3" y="446">Certificates</text></g>
<g id="n-pinning"><rect class="n" x="353" y="452" width="72" height="17.4" rx="1"/><text class="t" x="355" y="455.9">Pinning: Ensure when a client inspects the<tspan x="355" dy="3.6">certificate presented by a server or a code-</tspan><tspan x="355" dy="3.6">signed application, it is inspecting the</tspan><tspan x="355" dy="3.6">proper certificate.</tspan></text><rect class="pc" x="421" y="453.3" width="2.6" height="2.6"/></g>
<g id="n-hpkp"><rect class="n" x="363" y="476" width="58" height="13.8" rx="1"/><text class="t" x="365" y="479.9">Some techniques, such as HTTP<tspan x="365" dy="3.6">Public Key Pinning (HPKP) have</tspan><tspan x="365" dy="3.6">been deprecated.</tspan></text><rect class="pc" x="417" y="477.3" width="2.6" height="2.6"/></g>
<g id="n-fqdn"><rect class="n" x="354" y="493" width="76" height="21" rx="1"/><text class="t" x="356" y="496.9">Having a valid server certificate with a fully<tspan x="356" dy="3.6">qualified domain name (FQDN) that does not</tspan><tspan x="356" dy="3.6">match the Common Name (CN) with the Subject</tspan><tspan x="356" dy="3.6">field will cause that error messages to site</tspan><tspan x="356" dy="3.6">visitors.</tspan></text></g>
<g id="n-ocsp"><rect class="n" x="354" y="518" width="78" height="13.8" rx="1"/><text class="t" x="356" y="521.9">Online Certificate Status Protocol (OCSP):<tspan x="356" dy="3.6">Validates the status of specific digital</tspan><tspan x="356" dy="3.6">certificates.</tspan></text><rect class="pg" x="428" y="519.3" width="2.6" height="2.6"/></g>
<g id="n-ev"><rect class="n" x="354" y="534" width="70" height="10.2" rx="1"/><text class="t" x="356" y="537.9">Extended Validation (EV): Proves domain<tspan x="356" dy="3.6">ownership and legal identity.</tspan></text></g>

<g id="n-keyusage-q"><rect class="n" x="270" y="511" width="67" height="13.8" rx="1"/><text class="t" x="272" y="514.9">With regard to digital certificates, which<tspan x="272" dy="3.6">of the following defines key usage for a</tspan><tspan x="272" dy="3.6">certificate's public key?</tspan></text><rect class="py" x="333" y="512.3" width="2.6" height="2.6"/></g>
<use href="#hd" x="262" y="530"/>
<g id="n-extattr"><rect class="n" x="280" y="528" width="47" height="10.2" rx="1"/><text class="t" x="282" y="531.9">The extension attributes of<tspan x="282" dy="3.6">a V3 certificate.</tspan></text><rect class="py" x="323" y="529.3" width="2.6" height="2.6"/></g>
<g id="n-keygen"><rect class="n" x="272" y="542" width="58" height="13.8" rx="1"/><text class="t" x="274" y="545.9">The ability to create a secure key<tspan x="274" dy="3.6">pair of the required strength using</tspan><tspan x="274" dy="3.6">the chosen cipher is key generation.</tspan></text><rect class="py" x="326" y="543.3" width="2.6" height="2.6"/></g>
<g id="n-usageaudit"><rect class="n" x="269" y="561" width="68" height="13.8" rx="1"/><text class="t" x="271" y="564.9">Configuring the security log to record key<tspan x="271" dy="3.6">indicators and then reviewing the logs for</tspan><tspan x="271" dy="3.6">suspicious activity is usage auditing.</tspan></text><rect class="py" x="333" y="562.3" width="2.6" height="2.6"/></g>
<g id="n-seminar"><rect class="n" x="264" y="581" width="92" height="17.4" rx="1"/><text class="t" x="266" y="584.9">After attending a security seminar, management inquired<tspan x="266" dy="3.6">about ways to secure directory services in the company.</tspan><tspan x="266" dy="3.6">Using Microsoft's Active Directory, which of the following</tspan><tspan x="266" dy="3.6">implementations is the IT team most likely to suggest?</tspan></text><rect class="pm" x="351.5" y="582.3" width="2.6" height="2.6"/></g>
<g id="n-sasl"><rect class="n" x="274" y="603" width="84" height="24.5" rx="1"/><text class="t" x="276" y="606.9">With SASL, the client and server negotiate which<tspan x="276" dy="3.6">authentication mechanisms are supported, such as</tspan><tspan x="276" dy="3.6">Kerberos. The STARTTLS command upgrades</tspan><tspan x="276" dy="3.6">security (TLS) as part of SASL. Command-level</tspan><tspan x="276" dy="3.6">encryption (sealing) and message integrity (signing).</tspan><tspan x="276" dy="3.6">Microsoft's Active Directory (AD) prefers this LDAP.</tspan></text><rect class="pm" x="354" y="604.3" width="2.6" height="2.6"/></g>
<g id="n-isac"><rect class="n" x="373" y="573" width="46" height="10.2" rx="1"/><text class="t" x="375" y="576.9">SIAC: Information Sharing<tspan x="375" dy="3.6">and Analysis Centers</tspan></text><rect class="pm" x="415" y="574.3" width="2.6" height="2.6"/></g>
<g id="n-lbq"><rect class="n" x="373" y="590" width="37" height="10.2" rx="1"/><text class="t" x="375" y="593.9">Layer 4 vs. Layer 7 load<tspan x="375" dy="3.6">balancers.</tspan></text><rect class="py" x="406" y="591.3" width="2.6" height="2.6"/></g>
<use href="#hd" x="383" y="605.5"/>
<g id="n-drift"><rect class="n" x="373" y="620" width="82" height="13.8" rx="1"/><text class="t" x="375" y="623.9">Configuration drift occurs when malware exploits<tspan x="375" dy="3.6">an undocumented configuration change on a</tspan><tspan x="375" dy="3.6">system, which has occurred in this situation.</tspan></text><rect class="pc" x="451" y="621.3" width="2.6" height="2.6"/></g>
<g id="n-shadowit"><rect class="n" x="373" y="638" width="82" height="13.8" rx="1"/><text class="t" x="375" y="641.9">Similarly, shadow IT is part of the issue as it<tspan x="375" dy="3.6">occurs when individuals introduce unauthorized</tspan><tspan x="375" dy="3.6">hardware or software to a workplace environment.</tspan></text><rect class="pc" x="451" y="639.3" width="2.6" height="2.6"/></g>

<!-- ================= SSCP ================= -->
<g id="sscp"><rect class="grp" x="599" y="21" width="401" height="637" rx="1.5" fill="#704912"/><rect x="600" y="22" width="83" height="7" rx="1" fill="#d08a12"/><text class="bk" x="601.3" y="27">Systems Security Certified Practitioner</text></g>

<g id="errors"><rect class="grp" x="601" y="32" width="71" height="105" rx="1.5" fill="#5a2a5a"/><rect x="602" y="33" width="15" height="6.5" rx="1" fill="#3a1a9a"/><text class="b" x="603.3" y="37.8">Errors</text></g>
<g id="n-cer"><rect class="n" x="603" y="44" width="50" height="6.5" rx="1"/><text class="t" x="605" y="48.2">CER = Crossover Error Rate</text><rect class="pm" x="649" y="45" width="2.6" height="2.6"/></g>
<g id="n-farfrr"><rect class="n" x="613" y="54" width="32" height="6.5" rx="1"/><text class="t" x="615" y="58.2">Where FAR = FRR</text><rect class="pm" x="641" y="55" width="2.6" height="2.6"/></g>
<g id="n-far"><rect class="n" x="603" y="64" width="50" height="6.5" rx="1"/><text class="t" x="605" y="68.2">FAR = False Acceptance Rate</text><rect class="pc" x="649" y="65" width="2.6" height="2.6"/></g>
<g id="n-frr"><rect class="n" x="603" y="73" width="50" height="6.5" rx="1"/><text class="t" x="605" y="77.2">FRR = False Rejection Rate</text><rect class="pc" x="649" y="74" width="2.6" height="2.6"/></g>
<g id="n-type1"><rect class="n" x="603" y="83" width="50" height="6.5" rx="1"/><text class="t" x="605" y="87.2">Type 1 Error: False negative</text><rect class="pc" x="649" y="84" width="2.6" height="2.6"/></g>
<g id="n-type2"><rect class="n" x="603" y="93" width="50" height="6.5" rx="1"/><text class="t" x="605" y="97.2">Type 2 Error: False positive</text><rect class="pc" x="649" y="94" width="2.6" height="2.6"/></g>
<g id="n-perf"><rect class="n" x="603" y="105" width="59" height="13.8" rx="1"/><text class="t" x="605" y="108.9">If performance is not acceptable,<tspan x="605" dy="3.6">assess other biometric systems to</tspan><tspan x="605" dy="3.6">compare them.</tspan></text><rect class="pm" x="658" y="106.3" width="2.6" height="2.6"/></g>
<g id="n-sensitivity"><rect class="n" x="607" y="123" width="48" height="10.2" rx="1"/><text class="t" x="609" y="126.9">Sensitivity is already<tspan x="609" dy="3.6">accounted for in CER charts.</tspan></text><rect class="pm" x="651" y="124.3" width="2.6" height="2.6"/></g>

<g id="mfa-methods"><rect class="grp" x="677" y="32" width="78" height="101" rx="1.5" fill="#8a2a14"/><rect x="678" y="33" width="28" height="7" rx="1" fill="#d63a22"/><text class="b" x="679.3" y="38">MFA Methods</text></g>
<g id="n-sync"><rect class="n" x="680" y="43" width="64" height="17.4" rx="1"/><text class="t" x="682" y="46.9">Synchronous soft tokens, such as<tspan x="682" dy="3.6">Google Authenticator, use a time-</tspan><tspan x="682" dy="3.6">based algorithm that generates a</tspan><tspan x="682" dy="3.6">constantly changing series of codes.</tspan></text><rect class="pc" x="740" y="44.3" width="2.6" height="2.6"/></g>
<g id="n-async"><rect class="n" x="680" y="65" width="64" height="21" rx="1"/><text class="t" x="682" y="68.9">Asynchronous tokens typically require<tspan x="682" dy="3.6">a challenge to be entered on the token</tspan><tspan x="682" dy="3.6">to allow it to calculate a response,</tspan><tspan x="682" dy="3.6">which the server compares to the</tspan><tspan x="682" dy="3.6">response it expects.</tspan></text><rect class="pc" x="740" y="66.3" width="2.6" height="2.6"/></g>
<g id="n-static"><rect class="n" x="680" y="96" width="58" height="17.4" rx="1"/><text class="t" x="682" y="99.9">Static tokens are physical devices<tspan x="682" dy="3.6">that can contain credentials and</tspan><tspan x="682" dy="3.6">include smart cards and memory</tspan><tspan x="682" dy="3.6">cards.</tspan></text><rect class="pm" x="734" y="97.3" width="2.6" height="2.6"/></g>
<g id="n-smartcards"><rect class="n" x="685" y="117" width="52" height="13.8" rx="1"/><text class="t" x="687" y="120.9">Smartcards typically present a<tspan x="687" dy="3.6">certificate but may have other</tspan><tspan x="687" dy="3.6">token capabilities built in.</tspan></text><rect class="pm" x="733" y="118.3" width="2.6" height="2.6"/></g>

<g id="access-control"><rect class="grp" x="758" y="25" width="158" height="203" rx="1.5" fill="#3a2a44"/><rect x="759" y="26" width="30" height="7" rx="1" fill="#2a2a8c"/><text class="b" x="760.3" y="31">Access Control</text><use href="#hd" x="803" y="217.5"/></g>
<g id="mac"><rect class="grp" x="759" y="35" width="157" height="102" rx="1.5" fill="#1e3448"/><rect x="760" y="37" width="12" height="7" rx="1" fill="#2aa04a"/><text class="b" x="761.2" y="42">MAC</text></g>
<g id="n-mac"><rect class="n" x="776" y="39" width="47" height="6.5" rx="1"/><text class="t" x="778" y="43.2">Mandatory Access Control</text><rect class="pm" x="819" y="40" width="2.6" height="2.6"/></g>
<g id="n-lattice"><rect class="n" x="763" y="48" width="47" height="13.8" rx="1"/><text class="t" x="765" y="51.9">Lattice-based: uses a matrix<tspan x="765" dy="3.6">of classification labels to</tspan><tspan x="765" dy="3.6">compartmentalize data.</tspan></text><rect class="pm" x="806" y="49.3" width="2.6" height="2.6"/></g>
<g id="n-notmod"><rect class="n" x="763" y="66" width="45" height="6.5" rx="1"/><text class="t" x="765" y="70.2">Not able to be modified.</text><rect class="pm" x="804" y="67" width="2.6" height="2.6"/></g>
<g id="n-labels"><rect class="n" x="763" y="75" width="64" height="13.8" rx="1"/><text class="t" x="765" y="78.9">Applies labels to subjects and objects<tspan x="765" dy="3.6">and allows subjects to access objects</tspan><tspan x="765" dy="3.6">when their labels match.</tspan></text><rect class="pm" x="823" y="76.3" width="2.6" height="2.6"/></g>
<g id="n-subject"><rect class="n" x="769" y="92" width="49" height="6.5" rx="1"/><text class="t" x="771" y="96.2">Requesting user = subject</text><rect class="pm" x="814" y="93" width="2.6" height="2.6"/></g>
<g id="n-objects"><rect class="n" x="769" y="101" width="50" height="33" rx="1"/><text class="t" x="771" y="104.9">Examples of Objects include:<tspan x="771" dy="3.6">• Files</tspan><tspan x="771" dy="3.6">• Databases</tspan><tspan x="771" dy="3.6">• Computers</tspan><tspan x="771" dy="3.6">• Programs</tspan><tspan x="771" dy="3.6">• Processes</tspan><tspan x="771" dy="3.6">• Devices</tspan><tspan x="771" dy="3.6">• Media</tspan></text><rect class="pm" x="815" y="102.3" width="2.6" height="2.6"/></g>
<g id="n-hierarchical"><rect class="n" x="839" y="42" width="58" height="13.8" rx="1"/><text class="t" x="841" y="45.9">Hierarchical: Each domain is ordered<tspan x="841" dy="3.6">and related to other domains above</tspan><tspan x="841" dy="3.6">and below it.</tspan></text><rect class="pc" x="893" y="43.3" width="2.6" height="2.6"/></g>
<g id="n-compart"><rect class="n" x="839" y="59" width="59" height="10.2" rx="1"/><text class="t" x="841" y="62.9">Compartmentalized: Where there is<tspan x="841" dy="3.6">no relationship between each domain.</tspan></text><rect class="pc" x="894" y="60.3" width="2.6" height="2.6"/></g>
<g id="n-hybrid-mac"><rect class="n" x="839" y="72" width="54" height="10.2" rx="1"/><text class="t" x="841" y="75.9">Hybrid: Where both hierarchy<tspan x="841" dy="3.6">and compartments are used.</tspan></text><rect class="pc" x="889" y="73.3" width="2.6" height="2.6"/></g>
<g id="n-alllabel"><rect class="n" x="837" y="91" width="55" height="6.5" rx="1"/><text class="t" x="839" y="95.2">All subjects/objects have a label.</text><rect class="pm" x="888" y="92" width="2.6" height="2.6"/></g>
<g id="n-bracketing"><rect x="844" y="126" width="64" height="7" rx="1" fill="#8c1a2c"/><text class="t" x="847" y="130.5" style="font-weight:bold;fill:#fff">There is no concept of bracketing.</text></g>
<g id="models"><rect class="grp" x="761" y="143" width="75" height="49" rx="1.5" fill="#7a2a78"/><rect x="762" y="144" width="16" height="7" rx="1" fill="#c41cc4"/><text class="b" x="763.3" y="149">Models</text></g>
<g id="n-captables"><rect class="n" x="763" y="153" width="60" height="17.4" rx="1"/><text class="t" x="765" y="156.9">Capability Tables: an access control<tspan x="765" dy="3.6">model that focuses on subjects and</tspan><tspan x="765" dy="3.6">identifies the objects that each subject</tspan><tspan x="765" dy="3.6">can access.</tspan></text></g>
<g id="n-acls"><rect class="n" x="763" y="174" width="47" height="13.8" rx="1"/><text class="t" x="765" y="177.9">Access control lists (ACLs) are<tspan x="765" dy="3.6">object-focused rather than</tspan><tspan x="765" dy="3.6">subject-focused.</tspan></text></g>
<g id="n-abac"><rect class="n" x="838" y="143" width="69" height="17.4" rx="1"/><text class="t" x="840" y="146.9">Attribute-based access control (ABAC)<tspan x="840" dy="3.6">allows specifying details about</tspan><tspan x="840" dy="3.6">subjects, objects, and access, allowing</tspan><tspan x="840" dy="3.6">granular control.</tspan></text><rect class="pc" x="903" y="144.3" width="2.6" height="2.6"/></g>
<g id="n-dac"><rect class="n" x="838" y="165" width="64" height="13.8" rx="1"/><text class="t" x="840" y="168.9">Discretionary access control (DAC)<tspan x="840" dy="3.6">allows object owners to make</tspan><tspan x="840" dy="3.6">decisions.</tspan></text><rect class="pc" x="898" y="166.3" width="2.6" height="2.6"/></g>
<g id="n-dacadmin"><rect class="n" x="843" y="180" width="56" height="17.4" rx="1"/><text class="t" x="845" y="183.9">Allowing individual administrators<tspan x="845" dy="3.6">to make choices about the objects</tspan><tspan x="845" dy="3.6">they control provides scalability</tspan><tspan x="845" dy="3.6">and flexibility.</tspan></text><rect class="pm" x="895" y="181.3" width="2.6" height="2.6"/></g>
<g id="n-decentral"><rect class="n" x="760" y="197" width="67" height="17.4" rx="1"/><text class="t" x="762" y="200.9">Decentralized access control empowers<tspan x="762" dy="3.6">people closer to the resources to control</tspan><tspan x="762" dy="3.6">access but does not provide consistent</tspan><tspan x="762" dy="3.6">control.</tspan></text><rect class="py" x="823" y="198.3" width="2.6" height="2.6"/></g>
<g id="n-rbac"><rect class="n" x="838" y="202" width="54" height="10.2" rx="1"/><text class="t" x="840" y="205.9">Firewalls typically use Rule-Based<tspan x="840" dy="3.6">Access Controls (RBAC).</tspan></text></g>

<g id="tests"><rect class="grp" x="923" y="25" width="77" height="98" rx="1.5" fill="#3a6a30"/><rect x="924" y="26" width="14" height="7" rx="1" fill="#1f8a7a"/><text class="b" x="925.3" y="31">Tests</text></g>
<g id="n-checklist"><rect class="n" x="926" y="35" width="78" height="21" rx="1"/><text class="t" x="928" y="38.9">Checklist Review: the least disruptive type of<tspan x="928" dy="3.6">disaster recovery test. Team members each</tspan><tspan x="928" dy="3.6">review the contents of their disaster recovery</tspan><tspan x="928" dy="3.6">checklists on their own and suggest any</tspan><tspan x="928" dy="3.6">necessary changes.</tspan></text><rect class="pc" x="995" y="36.3" width="2.6" height="2.6"/></g>
<g id="n-tabletop"><rect class="n" x="926" y="60" width="78" height="13.8" rx="1"/><text class="t" x="928" y="63.9">Tabletop Exercise: team members come<tspan x="928" dy="3.6">together and walk through a scenario without</tspan><tspan x="928" dy="3.6">making any changes to information systems.</tspan></text><rect class="pc" x="995" y="61.3" width="2.6" height="2.6"/></g>
<g id="n-parallel"><rect class="n" x="926" y="77" width="78" height="13.8" rx="1" style="fill:#2c4a2e"/><text class="t" x="928" y="80.9">Parallel Test: the team actually activates<tspan x="928" dy="3.6">the disaster recovery site for testing, but</tspan><tspan x="928" dy="3.6">the primary site remains operational.</tspan></text><rect class="pc" x="995" y="78.3" width="2.6" height="2.6"/></g>
<g id="n-fullint"><rect class="n" x="926" y="94" width="78" height="24.5" rx="1"/><text class="t" x="928" y="97.9">Full Interruption Test: the team takes down<tspan x="928" dy="3.6">the primary site and confirms that the disaster</tspan><tspan x="928" dy="3.6">recovery site is capable of handling regular</tspan><tspan x="928" dy="3.6">operations. The full interruption test is the</tspan><tspan x="928" dy="3.6">most thorough test but also the most</tspan><tspan x="928" dy="3.6">disruptive.</tspan></text><rect class="pc" x="995" y="95.3" width="2.6" height="2.6"/></g>

<g id="iso-guidance"><rect class="grp" x="923" y="130" width="67" height="78" rx="1.5" fill="#4a7a1e"/><rect x="924" y="131" width="28" height="7" rx="1" fill="#4cb02a"/><text class="b" x="925.3" y="136">ISO Guidance</text></g>
<g id="n-iso27001"><rect class="n" x="926" y="140" width="62" height="13.8" rx="1"/><text class="t" x="928" y="143.9">ISO 27001 provides guidance on<tspan x="928" dy="3.6">implementing an information security</tspan><tspan x="928" dy="3.6">management system (ISMS).</tspan></text></g>
<g id="n-iso27002"><rect class="n" x="926" y="158" width="62" height="13.8" rx="1"/><text class="t" x="928" y="161.9">ISO 27002 is an international<tspan x="928" dy="3.6">standard focused on information</tspan><tspan x="928" dy="3.6">security.</tspan></text></g>
<g id="n-iso27701"><rect class="n" x="926" y="175" width="48" height="6.5" rx="1"/><text class="t" x="928" y="179.2">ISO 27701 covers privacy.</text></g>
<g id="n-iso9000"><rect class="n" x="926" y="184" width="44" height="10.2" rx="1"/><text class="t" x="928" y="187.9">ISO 9000 covers quality<tspan x="928" dy="3.6">management.</tspan></text></g>
<g id="n-iso22301"><rect class="n" x="926" y="196" width="46" height="10.2" rx="1"/><text class="t" x="928" y="199.9">ISO 22301 covers business<tspan x="928" dy="3.6">continuity.</tspan></text></g>

<g id="dos-types"><rect class="grp" x="923" y="216" width="64" height="62" rx="1.5" fill="#6a3a2a"/><rect x="924" y="217" width="22" height="7" rx="1" fill="#5a2aa8"/><text class="b" x="925.3" y="222">DoS Types</text></g>
<g id="n-teardrop"><rect class="n" x="926" y="226" width="59" height="24.5" rx="1"/><text class="t" x="928" y="229.9">Teardrop Attack: uses fragmented<tspan x="928" dy="3.6">packets to target a flaw in how the</tspan><tspan x="928" dy="3.6">TCP stack on a system handles</tspan><tspan x="928" dy="3.6">fragment reassembly. If the attack is</tspan><tspan x="928" dy="3.6">successful, the TCP stack fails,</tspan><tspan x="928" dy="3.6">resulting in a denial of service.</tspan></text></g>
<g id="n-xmas"><rect class="n" x="925" y="254" width="51" height="17.4" rx="1"/><text class="t" x="927" y="257.9">Christmas Tree attacks: set all<tspan x="927" dy="3.6">of the possible TCP flags on a</tspan><tspan x="927" dy="3.6">packet, thus "lighting it up like a</tspan><tspan x="927" dy="3.6">Christmas tree."</tspan></text></g>
<rect x="994" y="133" width="6" height="150" fill="#3a6a30" fill-opacity=".9"/>
<rect x="996" y="316" width="4" height="160" fill="#2a2a5a" fill-opacity=".9"/>

<g id="trust"><rect class="grp" x="602" y="143" width="131" height="212" rx="1.5" fill="#4a2a48"/><rect x="603" y="145" width="13" height="7" rx="1" fill="#2a2a8c"/><text class="b" x="604.2" y="150">Trust</text></g>
<g id="transitive"><rect class="grp" x="603" y="153" width="127" height="80" rx="1.5" fill="#8a3a20"/><rect x="604" y="154" width="21" height="6.5" rx="1" fill="#c8561e"/><text class="b" x="605.2" y="158.8">Transitive</text></g>
<g id="n-t-oneway"><rect class="n" x="606" y="163" width="21" height="6" rx="1"/><text class="t" x="608" y="167">One-Way</text><rect class="pm" x="623" y="164.2" width="2.4" height="2.4"/></g>
<g id="n-t-twoway"><rect class="n" x="668" y="163" width="21" height="6" rx="1"/><text class="t" x="670" y="167">Two-Way</text><rect class="pm" x="685" y="164.2" width="2.4" height="2.4"/></g>
<g id="n-t-dir1"><rect class="n" x="608" y="173" width="53" height="10.2" rx="1"/><text class="t" x="610" y="176.9"><tspan font-weight="bold">Direction:</tspan> A trusts B; B<tspan x="610" dy="3.6">doesn't necessarily trust A.</tspan></text><rect class="pm" x="657" y="174.3" width="2.6" height="2.6"/></g>
<g id="n-t-tr1"><rect class="n" x="608" y="187" width="53" height="13.8" rx="1"/><text class="t" x="610" y="190.9"><tspan font-weight="bold">Transitivity:</tspan> If A trusts B, and<tspan x="610" dy="3.6">B trusts C, then A</tspan><tspan x="610" dy="3.6">automatically trusts C.</tspan></text><rect class="pm" x="657" y="188.3" width="2.6" height="2.6"/></g>
<g id="n-t-use1"><rect class="n" x="608" y="205" width="53" height="21" rx="1"/><text class="t" x="610" y="208.9"><tspan font-weight="bold">Common Use:</tspan> Often used in<tspan x="610" dy="3.6">hierarchical structures, like in</tspan><tspan x="610" dy="3.6">a domain environment where</tspan><tspan x="610" dy="3.6">a parent domain trusts a child</tspan><tspan x="610" dy="3.6">domain.</tspan></text><rect class="pm" x="657" y="206.3" width="2.6" height="2.6"/></g>
<g id="n-t-dir2"><rect class="n" x="669" y="173" width="53" height="10.2" rx="1"/><text class="t" x="671" y="176.9"><tspan font-weight="bold">Direction:</tspan> Mutual trust, where<tspan x="671" dy="3.6">A trusts B and B trusts A.</tspan></text><rect class="pm" x="718" y="174.3" width="2.6" height="2.6"/></g>
<g id="n-t-tr2"><rect class="n" x="669" y="187" width="53" height="13.8" rx="1"/><text class="t" x="671" y="190.9"><tspan font-weight="bold">Transitivity:</tspan> If A trusts B, and B<tspan x="671" dy="3.6">trusts C, then A automatically</tspan><tspan x="671" dy="3.6">trusts C, and vice versa.</tspan></text><rect class="pm" x="718" y="188.3" width="2.6" height="2.6"/></g>
<g id="n-t-use2"><rect class="n" x="669" y="205" width="53" height="21" rx="1"/><text class="t" x="671" y="208.9"><tspan font-weight="bold">Common Use:</tspan> Common in<tspan x="671" dy="3.6">peer-to-peer network</tspan><tspan x="671" dy="3.6">relationships, especially within</tspan><tspan x="671" dy="3.6">a forest of domains where each</tspan><tspan x="671" dy="3.6">domain trusts each other.</tspan></text><rect class="pm" x="718" y="206.3" width="2.6" height="2.6"/></g>
<g id="nontransitive"><rect class="grp" x="603" y="236" width="127" height="87" rx="1.5" fill="#9a1e9a"/><rect x="604" y="237" width="27" height="6.5" rx="1" fill="#c83a2a"/><text class="b" x="605.2" y="241.8">Nontransitive</text></g>
<g id="n-n-oneway"><rect class="n" x="606" y="247" width="21" height="6" rx="1"/><text class="t" x="608" y="251">One-Way</text><rect class="pm" x="623" y="248.2" width="2.4" height="2.4"/></g>
<g id="n-n-twoway"><rect class="n" x="664" y="247" width="21" height="6" rx="1"/><text class="t" x="666" y="251">Two-Way</text><rect class="pm" x="681" y="248.2" width="2.4" height="2.4"/></g>
<g id="n-n-dir1"><rect class="n" x="607" y="258" width="49" height="10.2" rx="1"/><text class="t" x="609" y="261.9"><tspan font-weight="bold">Direction:</tspan> A trusts B, but B<tspan x="609" dy="3.6">doesn't trust A.</tspan></text><rect class="pm" x="652" y="259.3" width="2.6" height="2.6"/></g>
<g id="n-n-tr1"><rect class="n" x="607" y="272" width="52" height="17.4" rx="1"/><text class="t" x="609" y="275.9"><tspan font-weight="bold">Transitivity:</tspan> Trust does not<tspan x="609" dy="3.6">extend beyond the two parties</tspan><tspan x="609" dy="3.6">involved. If A trusts B, and B</tspan><tspan x="609" dy="3.6">trusts C, A does not trust C.</tspan></text><rect class="pm" x="655" y="273.3" width="2.6" height="2.6"/></g>
<g id="n-n-use1"><rect class="n" x="607" y="293" width="52" height="24.5" rx="1"/><text class="t" x="609" y="296.9"><tspan font-weight="bold">Common Use:</tspan> Ideal for<tspan x="609" dy="3.6">isolated or temporary trust</tspan><tspan x="609" dy="3.6">situations, like granting a</tspan><tspan x="609" dy="3.6">specific domain or organization</tspan><tspan x="609" dy="3.6">access to resources without</tspan><tspan x="609" dy="3.6">extending that trust further.</tspan></text><rect class="pm" x="655" y="294.3" width="2.6" height="2.6"/></g>
<g id="n-n-dir2"><rect class="n" x="667" y="258" width="51" height="10.2" rx="1"/><text class="t" x="669" y="261.9"><tspan font-weight="bold">Direction:</tspan> Mutual trust where<tspan x="669" dy="3.6">A trusts B and B trusts A.</tspan></text><rect class="pm" x="714" y="259.3" width="2.6" height="2.6"/></g>
<g id="n-n-tr2"><rect class="n" x="667" y="272" width="56" height="17.4" rx="1"/><text class="t" x="669" y="275.9"><tspan font-weight="bold">Transitivity:</tspan> Trust does not<tspan x="669" dy="3.6">extend to third parties. If A trusts</tspan><tspan x="669" dy="3.6">B, and B trusts C, neither A nor</tspan><tspan x="669" dy="3.6">C trusts each other.</tspan></text><rect class="pm" x="719" y="273.3" width="2.6" height="2.6"/></g>
<g id="n-n-use2"><rect class="n" x="667" y="293" width="56" height="24.5" rx="1"/><text class="t" x="669" y="296.9"><tspan font-weight="bold">Common Use:</tspan> Used in scenarios<tspan x="669" dy="3.6">where two organizations need to</tspan><tspan x="669" dy="3.6">share resources but don't want</tspan><tspan x="669" dy="3.6">that trust relationship to extend</tspan><tspan x="669" dy="3.6">to other interconnected networks</tspan><tspan x="669" dy="3.6">or domains.</tspan></text><rect class="pm" x="719" y="294.3" width="2.6" height="2.6"/></g>
<g id="n-federation"><rect class="n" x="604" y="327" width="58" height="10.2" rx="1"/><text class="t" x="606" y="330.9">Federation: where one domain trusts<tspan x="606" dy="3.6">users from another domain.</tspan></text></g>

<g id="n-saml"><rect class="n" x="602" y="360" width="61" height="21" rx="1"/><text class="t" x="604" y="363.9">Security Assertion Markup Language<tspan x="604" dy="3.6">(SAML) is the best choice for providing</tspan><tspan x="604" dy="3.6">authentication and authorization</tspan><tspan x="604" dy="3.6">information, particularly for browser-</tspan><tspan x="604" dy="3.6">based SSO.</tspan></text></g>
<g id="n-palm"><rect class="n" x="668" y="360" width="72" height="24.5" rx="1"/><text class="t" x="670" y="363.9">Palm scans compare the vein patterns in the<tspan x="670" dy="3.6">palm to a database to authenticate a user. Vein</tspan><tspan x="670" dy="3.6">patterns are unique, and this method is a better</tspan><tspan x="670" dy="3.6">single-factor authentication method than voice</tspan><tspan x="670" dy="3.6">pattern recognition, hand geometry, and pulse</tspan><tspan x="670" dy="3.6">patterns.</tspan></text></g>
<g id="n-spml"><rect x="602" y="385" width="58" height="21" rx="1" fill="#b41818"/><text class="t" x="604" y="388.9" style="fill:#fff">Service Provisioning Markup<tspan x="604" dy="3.6">Language, or SPML, is an XML-</tspan><tspan x="604" dy="3.6">based language designed to allow</tspan><tspan x="604" dy="3.6">platforms to generate and respond</tspan><tspan x="604" dy="3.6">to provisioning requests.</tspan></text><rect class="pc" x="656" y="386.3" width="2.6" height="2.6"/></g>
<g id="n-risk"><rect class="n" x="668" y="389" width="49" height="6.5" rx="1"/><text class="t" x="670" y="393.2">Risk = Threat * Vulnerability</text></g>
<g id="n-spml2"><rect class="n" x="609" y="410" width="48" height="10.2" rx="1"/><text class="t" x="611" y="413.9">SPML is used to exchange<tspan x="611" dy="3.6">user information for SSO.</tspan></text><rect class="pc" x="653" y="411.3" width="2.6" height="2.6"/></g>
<g id="n-xacml"><rect class="n" x="602" y="423" width="48" height="10.2" rx="1"/><text class="t" x="604" y="426.9">XACML is used for access<tspan x="604" dy="3.6">control policy markup.</tspan></text></g>
<g id="n-gpo"><rect class="n" x="602" y="436" width="56" height="13.8" rx="1"/><text class="t" x="604" y="439.9">Group Policy provides the ability to<tspan x="604" dy="3.6">monitor and apply settings in a</tspan><tspan x="604" dy="3.6">security baseline.</tspan></text></g>
<g id="n-bastion"><rect class="n" x="602" y="455" width="56" height="13.8" rx="1"/><text class="t" x="604" y="458.9">Bastion host = secure log server;<tspan x="604" dy="3.6">most effective way to ensure that</tspan><tspan x="604" dy="3.6">logs survive a breach.</tspan></text></g>

<g id="nist-publications"><rect class="grp" x="667" y="399" width="66" height="76" rx="1.5" fill="#7a2a7a"/><rect x="668" y="400" width="37" height="7" rx="1" fill="#c41cc4"/><text class="b" x="669.3" y="405">NIST Publications</text></g>
<g id="n-80053a"><rect x="669" y="410" width="52" height="13.8" rx="1" fill="#3aa020"/><text class="t" x="671" y="413.9" style="fill:#fff">NIST SP 800-53A: covers the<tspan x="671" dy="3.6">assessment of security and</tspan><tspan x="671" dy="3.6">privacy controls</tspan></text><rect class="pc" x="717" y="411.3" width="2.6" height="2.6"/></g>
<g id="n-80012"><rect class="n" x="669" y="427" width="56" height="10.2" rx="1"/><text class="t" x="671" y="430.9">NIST 800-12 is an introduction<tspan x="671" dy="3.6">to computer security</tspan></text><rect class="pc" x="721" y="428.3" width="2.6" height="2.6"/></g>
<g id="n-80034"><rect class="n" x="669" y="440" width="49" height="10.2" rx="1"/><text class="t" x="671" y="443.9">800-34 covers contingency<tspan x="671" dy="3.6">planning.</tspan></text><rect class="pc" x="714" y="441.3" width="2.6" height="2.6"/></g>
<g id="n-80086"><rect class="n" x="669" y="455" width="59" height="13.8" rx="1"/><text class="t" x="671" y="458.9">800-86 is the "Guide to<tspan x="671" dy="3.6">Integrating Forensic Techniques</tspan><tspan x="671" dy="3.6">into Incident Response."</tspan></text><rect class="pc" x="724" y="456.3" width="2.6" height="2.6"/></g>

<g id="identification"><rect class="grp" x="737" y="232" width="81" height="181" rx="1.5" fill="#2a6a3e"/><rect x="738" y="233" width="28" height="7" rx="1" fill="#2a8a6a"/><text class="b" x="739.3" y="238">Identification</text><use href="#hd" x="779" y="402"/></g>
<g id="n-claim"><rect class="n" x="740" y="244" width="57" height="6.5" rx="1"/><text class="t" x="742" y="248.2">Subject claiming an identity.</text></g>
<g id="n-proofing"><rect class="n" x="740" y="253" width="65" height="21" rx="1"/><text class="t" x="742" y="256.9">Identity Proofing = The process<tspan x="742" dy="3.6">of providing sufficient information</tspan><tspan x="742" dy="3.6">(e.g., identity history, credentials,</tspan><tspan x="742" dy="3.6">documents) to establish an</tspan><tspan x="742" dy="3.6">identity.</tspan></text><rect class="pm" x="801" y="254.3" width="2.6" height="2.6"/></g>
<g id="n-kba"><rect class="n" x="755" y="280" width="52" height="10.2" rx="1"/><text class="t" x="757" y="283.9">Knowledge-Based Proof<tspan x="757" dy="3.6">questions such as pet's name.</tspan></text><rect class="pm" x="803" y="281.3" width="2.6" height="2.6"/></g>
<g id="n-dkba"><rect class="n" x="755" y="295" width="60" height="31.6" rx="1"/><text class="t" x="757" y="298.9">Dynamic knowledge-based<tspan x="757" dy="3.6">authentication relies on facts or</tspan><tspan x="757" dy="3.6">data that the user already knows</tspan><tspan x="757" dy="3.6">that can be created from the user's</tspan><tspan x="757" dy="3.6">history; they can create questions</tspan><tspan x="757" dy="3.6">as on an as-needed basis (for</tspan><tspan x="757" dy="3.6">example, a previous address, or a</tspan><tspan x="757" dy="3.6">school they attended).</tspan></text><rect class="pm" x="811" y="296.3" width="2.6" height="2.6"/></g>
<g id="n-oob"><rect class="n" x="755" y="329" width="57" height="13.8" rx="1"/><text class="t" x="757" y="332.9">Out-of-band identity proofing<tspan x="757" dy="3.6">relies on an alternate channel like</tspan><tspan x="757" dy="3.6">a phone call or text message.</tspan></text><rect class="pm" x="808" y="330.3" width="2.6" height="2.6"/></g>
<g id="n-type3"><rect class="n" x="755" y="346" width="57" height="13.8" rx="1"/><text class="t" x="757" y="349.9">Type 3 authentication factors are<tspan x="757" dy="3.6">biometric, or "something you are,"</tspan><tspan x="757" dy="3.6">rather than knowledge-based.</tspan></text><rect class="pm" x="808" y="347.3" width="2.6" height="2.6"/></g>
<g id="n-registration"><rect class="n" x="740" y="366" width="60" height="13.8" rx="1"/><text class="t" x="742" y="369.9">Registration is the process of<tspan x="742" dy="3.6">adding a user to an identity</tspan><tspan x="742" dy="3.6">management system.</tspan></text></g>
<g id="n-idaas"><rect class="n" x="740" y="384" width="58" height="13.8" rx="1"/><text class="t" x="742" y="387.9">Identity as a service (IDaaS)<tspan x="742" dy="3.6">provides an identity platform</tspan><tspan x="742" dy="3.6">as a third-party service.</tspan></text><rect class="py" x="794" y="385.3" width="2.6" height="2.6"/></g>

<g id="recovery"><rect class="grp" x="827" y="232" width="85" height="90" rx="1.5" fill="#5e5a2e"/><rect x="828" y="233" width="20" height="7" rx="1" fill="#1f8a8a"/><text class="b" x="829.3" y="238">Recovery</text></g>
<g id="n-mtd"><rect class="n" x="829" y="244" width="74" height="17.4" rx="1"/><text class="t" x="831" y="247.9">The maximum tolerable downtime (MTD) is<tspan x="831" dy="3.6">the longest amount of time that an IT service</tspan><tspan x="831" dy="3.6">or component may be unavailable without</tspan><tspan x="831" dy="3.6">causing serious damage to the organization.</tspan></text><rect class="pc" x="899" y="245.3" width="2.6" height="2.6"/></g>
<g id="n-rto"><rect class="n" x="829" y="266" width="68" height="17.4" rx="1"/><text class="t" x="831" y="269.9">The recovery time objective (RTO) is the<tspan x="831" dy="3.6">amount of time expected to return an IT</tspan><tspan x="831" dy="3.6">service or component to operation after</tspan><tspan x="831" dy="3.6">a failure.</tspan></text><rect class="pc" x="893" y="267.3" width="2.6" height="2.6"/></g>
<g id="n-rpo"><rect class="n" x="829" y="289" width="74" height="17.4" rx="1"/><text class="t" x="831" y="292.9">The recovery point objective (RPO)<tspan x="831" dy="3.6">identifies the maximum amount of data,</tspan><tspan x="831" dy="3.6">measured in time, that may be lost during a</tspan><tspan x="831" dy="3.6">recovery effort.</tspan></text><rect class="pc" x="899" y="290.3" width="2.6" height="2.6"/></g>
<g id="n-sle"><rect class="n" x="829" y="311" width="54" height="6.5" rx="1"/><text class="t" x="831" y="315.2">SLE = Single Loss Expectancy</text><rect class="pc" x="879" y="312" width="2.6" height="2.6"/></g>

<g id="cloud-models"><rect class="grp" x="827" y="330" width="81" height="103" rx="1.5" fill="#3a7a1e"/><rect x="828" y="331" width="28" height="7" rx="1" fill="#4cb02a"/><text class="b" x="829.3" y="336">Cloud Models</text></g>
<g id="n-public"><rect class="n" x="829" y="340" width="60" height="17.4" rx="1"/><text class="t" x="831" y="343.9">In the public cloud computing<tspan x="831" dy="3.6">model, the vendor builds a single</tspan><tspan x="831" dy="3.6">platform that is shared among many</tspan><tspan x="831" dy="3.6">different customers.</tspan></text><rect class="pm" x="885" y="341.3" width="2.6" height="2.6"/></g>
<g id="n-aws"><rect class="n" x="845" y="362" width="35" height="10.2" rx="1"/><text class="t" x="847" y="365.9">Ex. AWS, Google Cloud,<tspan x="847" dy="3.6">Microsoft Azure</tspan></text><rect class="pm" x="876" y="363.3" width="2.6" height="2.6"/></g>
<g id="n-private"><rect class="n" x="829" y="377" width="51" height="10.2" rx="1"/><text class="t" x="831" y="380.9">Private cloud: used exclusively by<tspan x="831" dy="3.6">a single organization.</tspan></text></g>
<g id="n-community"><rect class="n" x="829" y="391" width="64" height="21" rx="1"/><text class="t" x="831" y="394.9">Community Cloud: The infrastructure is<tspan x="831" dy="3.6">shared between several organizations</tspan><tspan x="831" dy="3.6">from a specific community with</tspan><tspan x="831" dy="3.6">common concerns (security,</tspan><tspan x="831" dy="3.6">compliance, jurisdiction, etc.).</tspan></text><rect class="pm" x="889" y="392.3" width="2.6" height="2.6"/></g>
<g id="n-managed"><rect class="n" x="843" y="416" width="50" height="17" rx="1"/><text class="t" x="845" y="419.9">It can be managed internally<tspan x="845" dy="3.6">or by a third party and</tspan><tspan x="845" dy="3.6">hosted internally or</tspan><tspan x="845" dy="3.6">externally.</tspan></text><rect class="pm" x="889" y="417.3" width="2.6" height="2.6"/></g>

<g id="motion-sensors"><rect class="grp" x="920" y="283" width="70" height="62" rx="1.5" fill="#2e6a40"/><rect x="921" y="285" width="30" height="7" rx="1" fill="#1f8a7a"/><text class="b" x="922.3" y="290">Motion Sensors</text></g>
<g id="n-capacitance"><rect class="n" x="923" y="294" width="64" height="17.4" rx="1"/><text class="t" x="925" y="297.9">Capacitance motion detectors monitor the<tspan x="925" dy="3.6">electromagnetic field in a monitored area,</tspan><tspan x="925" dy="3.6">sensing disturbances that correspond to</tspan><tspan x="925" dy="3.6">motion.</tspan></text></g>
<g id="n-wave"><rect class="n" x="923" y="315" width="64" height="17.4" rx="1"/><text class="t" x="925" y="318.9">Wave pattern motion detectors transmit<tspan x="925" dy="3.6">ultrasonic or microwave signals into the</tspan><tspan x="925" dy="3.6">monitor area, watching for changes in the</tspan><tspan x="925" dy="3.6">returned signals bouncing off objects.</tspan></text></g>

<g id="cables"><rect class="grp" x="920" y="352" width="57" height="50" rx="1.5" fill="#8a4a4a"/><rect x="921" y="353" width="16" height="7" rx="1" fill="#c41cc4"/><text class="b" x="922.3" y="358">Cables</text></g>
<g id="n-cat3"><rect class="n" x="923" y="363" width="49" height="6.5" rx="1"/><text class="t" x="925" y="367.2">Category 3 UTP: 10 Mbps</text></g>
<g id="n-cat5"><rect class="n" x="923" y="373" width="27" height="6.5" rx="1"/><text class="t" x="925" y="377.2">Cat 5: 100 Mbps</text></g>
<g id="n-cat5e"><rect x="923" y="383" width="34" height="6.5" rx="1" fill="#2a8a2a"/><text class="t" x="925" y="387.2" style="fill:#fff">Cat 5e: 1000 Mbps</text><rect class="pg" x="953" y="384" width="2.6" height="2.6"/></g>
<g id="n-cat6"><rect x="923" y="392" width="34" height="6.5" rx="1" fill="#2a8a2a"/><text class="t" x="925" y="396.2" style="fill:#fff">Cat 6: 1000 Mbps</text><rect class="pg" x="953" y="393" width="2.6" height="2.6"/></g>

<g id="windows-logging"><rect class="grp" x="920" y="408" width="63" height="76" rx="1.5" fill="#8a4a44"/><rect x="921" y="409" width="35" height="7" rx="1" fill="#c41cc4"/><text class="b" x="922.3" y="414">Windows Logging</text></g>
<g id="n-wl-errors"><rect class="n" x="923" y="419" width="36" height="10.2" rx="1"/><text class="t" x="925" y="422.9">Errors - indicate a<tspan x="925" dy="3.6">significant problem.</tspan></text><rect class="pc" x="955" y="420.3" width="2.6" height="2.6"/></g>
<g id="n-wl-warn"><rect class="n" x="923" y="431" width="42" height="10.2" rx="1"/><text class="t" x="925" y="434.9">Warnings - may indicate<tspan x="925" dy="3.6">future problems.</tspan></text><rect class="pc" x="961" y="432.3" width="2.6" height="2.6"/></g>
<g id="n-wl-info"><rect class="n" x="923" y="444" width="42" height="10.2" rx="1"/><text class="t" x="925" y="447.9">Information - describes<tspan x="925" dy="3.6">successful operations.</tspan></text><rect class="pc" x="961" y="445.3" width="2.6" height="2.6"/></g>
<g id="n-wl-success"><rect class="n" x="923" y="457" width="50" height="10.2" rx="1"/><text class="t" x="925" y="460.9">Success audits - record<tspan x="925" dy="3.6">successful security accesses.</tspan></text><rect class="pc" x="969" y="458.3" width="2.6" height="2.6"/></g>
<g id="n-wl-failure"><rect class="n" x="923" y="470" width="50" height="10.2" rx="1"/><text class="t" x="925" y="473.9">Failure audits - record failed<tspan x="925" dy="3.6">security access attempts.</tspan></text><rect class="pc" x="969" y="471.3" width="2.6" height="2.6"/></g>

<g id="nist-security-events"><rect class="grp" x="737" y="420" width="70" height="56" rx="1.5" fill="#2a6a36"/><rect x="738" y="421" width="41" height="7" rx="1" fill="#3aa030"/><text class="b" x="739.3" y="426">NIST Security Events</text></g>
<g id="n-incident"><rect class="n" x="740" y="430" width="58" height="13.8" rx="1"/><text class="t" x="742" y="433.9">Security incident: a violation or<tspan x="742" dy="3.6">imminent threat of violation of</tspan><tspan x="742" dy="3.6">security policies and practices.</tspan></text><rect class="pc" x="794" y="431.3" width="2.6" height="2.6"/></g>
<g id="n-adverse"><rect class="n" x="740" y="448" width="56" height="10.2" rx="1"/><text class="t" x="742" y="451.9">Adverse Event: any event with<tspan x="742" dy="3.6">negative consequences.</tspan></text><rect class="pc" x="792" y="449.3" width="2.6" height="2.6"/></g>
<g id="n-event"><rect class="n" x="740" y="462" width="59" height="10.2" rx="1"/><text class="t" x="742" y="465.9">Event: any observable occurrence<tspan x="742" dy="3.6">in a system or network.</tspan></text><rect class="pc" x="795" y="463.3" width="2.6" height="2.6"/></g>

<g id="firewalls-sscp"><rect class="grp" x="846" y="441" width="69" height="74" rx="1.5" fill="#7a4a44"/><rect x="847" y="442" width="20" height="7" rx="1" fill="#5a2aa8"/><text class="b" x="848.3" y="447">Firewalls</text></g>
<g id="n-stateful"><rect class="n" x="849" y="451" width="63" height="28" rx="1"/><text class="t" x="851" y="454.9">Stateful packet inspection firewalls, also<tspan x="851" dy="3.6">known as dynamic packet filtering</tspan><tspan x="851" dy="3.6">firewalls, track the state of a</tspan><tspan x="851" dy="3.6">connection and can allow a response</tspan><tspan x="851" dy="3.6">from a remote system based on an</tspan><tspan x="851" dy="3.6">internal system being allowed to start</tspan><tspan x="851" dy="3.6">the communication.</tspan></text></g>
<g id="n-staticpf"><rect class="n" x="849" y="484" width="61" height="13.8" rx="1"/><text class="t" x="851" y="487.9">Static packet filtering and circuit-level<tspan x="851" dy="3.6">gateways only filter based on source,</tspan><tspan x="851" dy="3.6">destination, and ports.</tspan></text></g>
<g id="n-appgw"><rect class="n" x="849" y="502" width="61" height="10.2" rx="1"/><text class="t" x="851" y="505.9">Application-level gateway firewalls<tspan x="851" dy="3.6">proxy traffic for specific applications.</tspan></text></g>

<g id="testing"><rect class="grp" x="601" y="478" width="72" height="96" rx="1.5" fill="#5a4a30"/><rect x="602" y="479" width="17" height="7" rx="1" fill="#2a3aa8"/><text class="b" x="603.3" y="484">Testing</text></g>
<g id="n-regression"><rect class="n" x="604" y="489" width="59" height="17.4" rx="1"/><text class="t" x="606" y="492.9">Regression testing, which is a type<tspan x="606" dy="3.6">of functional or unit testing, tests</tspan><tspan x="606" dy="3.6">to ensure that changes have not</tspan><tspan x="606" dy="3.6">introduced new issues.</tspan></text><rect class="pc" x="659" y="490.3" width="2.6" height="2.6"/></g>
<g id="n-nonregression"><rect class="n" x="604" y="511" width="59" height="13.8" rx="1"/><text class="t" x="606" y="514.9">Nonregression testing checks to<tspan x="606" dy="3.6">see whether a change has had the</tspan><tspan x="606" dy="3.6">effect it was supposed to.</tspan></text><rect class="pc" x="659" y="512.3" width="2.6" height="2.6"/></g>
<g id="n-smoke"><rect class="n" x="604" y="528" width="55" height="13.8" rx="1"/><text class="t" x="606" y="531.9">Smoke testing focuses on<tspan x="606" dy="3.6">simple problems with impact on</tspan><tspan x="606" dy="3.6">critical functionality.</tspan></text><rect class="pc" x="655" y="529.3" width="2.6" height="2.6"/></g>
<g id="n-mutation"><rect class="n" x="604" y="546" width="66" height="24.5" rx="1"/><text class="t" x="606" y="549.9">Mutation testing modifies a program in<tspan x="606" dy="3.6">small ways and then tests that mutant</tspan><tspan x="606" dy="3.6">to determine whether it behaves as it</tspan><tspan x="606" dy="3.6">should or whether it fails. This</tspan><tspan x="606" dy="3.6">technique is used to design and test</tspan><tspan x="606" dy="3.6">software tests through mutation.</tspan></text><rect class="pc" x="666" y="547.3" width="2.6" height="2.6"/></g>

<g id="standards-sscp"><rect class="grp" x="681" y="480" width="74" height="58" rx="1.5" fill="#5a2a5a"/><rect x="682" y="481" width="22" height="7" rx="1" fill="#5a2aa8"/><text class="b" x="683.3" y="486">Standards</text></g>
<g id="n-8021x"><rect class="n" x="683" y="490" width="72" height="13.8" rx="1"/><text class="t" x="685" y="493.9">802.1x provides port-based authentication<tspan x="685" dy="3.6">and can be used with technologies like EAP,</tspan><tspan x="685" dy="3.6">the Extensible Authentication Protocol.</tspan></text></g>
<g id="n-802151"><rect class="n" x="683" y="511" width="49" height="10.2" rx="1"/><text class="t" x="685" y="514.9">802.15.1 was the original<tspan x="685" dy="3.6">Bluetooth IEEE standard.</tspan></text></g>
<g id="n-8023"><rect class="n" x="683" y="525" width="57" height="6.5" rx="1"/><text class="t" x="685" y="529.2">802.3 is the standard for Ethernet.</text></g>
<g id="n-radiation"><rect class="n" x="682" y="543" width="78" height="21" rx="1"/><text class="t" x="684" y="546.9">In radiation analysis, the security professional<tspan x="684" dy="3.6">limits the system focus into a binary stream of</tspan><tspan x="684" dy="3.6">bit boundaries, data flow paths, registers,</tspan><tspan x="684" dy="3.6">privileged operations, and details about sanity</tspan><tspan x="684" dy="3.6">controls.</tspan></text></g>
<g id="n-keys"><rect class="n" x="691" y="570" width="69" height="21" rx="1"/><text class="t" x="693" y="573.9">The formula for determining the number<tspan x="693" dy="3.6">of encryption keys required by a</tspan><tspan x="693" dy="3.6">symmetric algorithm is n(n-1)/2.</tspan><tspan x="693" dy="3.6">With six users, you will need ((6*(6-1))/2),</tspan><tspan x="693" dy="3.6">or 15 keys.</tspan></text></g>
<g id="n-operational-inv"><rect class="n" x="690" y="597" width="78" height="24.5" rx="1"/><text class="t" x="692" y="600.9">Operational investigations are performed by<tspan x="692" dy="3.6">internal teams to troubleshoot performance or</tspan><tspan x="692" dy="3.6">other technical issues. They are not intended to</tspan><tspan x="692" dy="3.6">produce evidence for use in court and, therefore,</tspan><tspan x="692" dy="3.6">do not have the right collection standards for</tspan><tspan x="692" dy="3.6">criminal, civil, or regulatory investigations.</tspan></text></g>
<g id="n-discovery"><rect class="n" x="705" y="627" width="63" height="13.8" rx="1"/><text class="t" x="707" y="630.9">When forensic evidence or information<tspan x="707" dy="3.6">is produced for a civil case, it is called</tspan><tspan x="707" dy="3.6">discovery.</tspan></text></g>
<g id="n-ethernet"><rect class="n" x="602" y="581" width="77" height="31" rx="1"/><text class="t" x="604" y="584.9">Ethernet uses a bus topology. While devices<tspan x="604" dy="3.6">may be physically connected to a switch in a</tspan><tspan x="604" dy="3.6">physical topology that looks like a star, systems</tspan><tspan x="604" dy="3.6">using Ethernet can all transmit on the bus</tspan><tspan x="604" dy="3.6">simultaneously, possibly leading to collisions.</tspan></text><rect x="604" y="603.5" width="14" height="5" rx=".8" fill="#c8861a"/><text class="t" x="605" y="607.2" style="font-size:2.7px;fill:#2a1a00">Topology</text><rect class="pc" x="675" y="582.3" width="2.6" height="2.6"/></g>
<g id="n-logicalbus"><rect class="n" x="603" y="616" width="53" height="13.8" rx="1"/><text class="t" x="605" y="619.9">Both a logical bus and a logical<tspan x="605" dy="3.6">ring can be implemented as a</tspan><tspan x="605" dy="3.6">physical star.</tspan></text><rect class="pc" x="652" y="617.3" width="2.6" height="2.6"/></g>
<g id="n-xacml2"><rect class="n" x="603" y="633" width="42" height="10.2" rx="1"/><text class="t" x="605" y="636.9">XACML is used to describe<tspan x="605" dy="3.6">access controls.</tspan></text></g>
<g id="n-diffbit"><rect x="650" y="633" width="43" height="10.2" rx="1" fill="#b41818"/><text class="t" x="652" y="636.9" style="fill:#fff">Differential backups do not<tspan x="652" dy="3.6">alter the archive bit on a file</tspan></text></g>

<g id="n-openid"><rect class="n" x="763" y="482" width="65" height="21" rx="1"/><text class="t" x="765" y="485.9">OpenID is a widely supported standard<tspan x="765" dy="3.6">that allows a user to use a single</tspan><tspan x="765" dy="3.6">account to log into multiple sites, and</tspan><tspan x="765" dy="3.6">Google accounts are frequently used</tspan><tspan x="765" dy="3.6">with OpenID.</tspan></text><rect class="pc" x="824" y="483.3" width="2.6" height="2.6"/></g>
<g id="n-oauth"><rect class="n" x="763" y="507" width="61" height="10.2" rx="1"/><text class="t" x="765" y="510.9">OAuth provides the ability to access<tspan x="765" dy="3.6">resources from another service.</tspan></text><rect class="pc" x="820" y="508.3" width="2.6" height="2.6"/></g>
<g id="n-logging"><rect class="n" x="763" y="521" width="55" height="13.8" rx="1"/><text class="t" x="765" y="524.9">Logging: the best way to provide<tspan x="765" dy="3.6">accountability for the use of</tspan><tspan x="765" dy="3.6">identities.</tspan></text></g>
<g id="n-mbsa"><rect class="n" x="763" y="540" width="73" height="17.4" rx="1"/><text class="t" x="765" y="543.9">The Microsoft Baseline Security Analyzer, or<tspan x="765" dy="3.6">MBSA, is a tool provided by Microsoft that</tspan><tspan x="765" dy="3.6">can identify installed or missing patches as</tspan><tspan x="765" dy="3.6">well as common security misconfigurations.</tspan></text><rect class="pm" x="832" y="541.3" width="2.6" height="2.6"/></g>
<g id="n-mbsa2"><rect class="n" x="769" y="563" width="67" height="21" rx="1"/><text class="t" x="771" y="566.9">Since it is run with administrative rights,<tspan x="771" dy="3.6">it will provide a better view than normal</tspan><tspan x="771" dy="3.6">nmap and Nessus scans. MBSA</tspan><tspan x="771" dy="3.6">provides more detailed information</tspan><tspan x="771" dy="3.6">about specific patches that are installed.</tspan></text><rect class="pm" x="832" y="564.3" width="2.6" height="2.6"/></g>
<g id="n-acm"><rect class="n" x="785" y="609" width="61" height="21" rx="1"/><text class="t" x="787" y="612.9">An access control matrix is a table<tspan x="787" dy="3.6">that lists objects, subjects, and their</tspan><tspan x="787" dy="3.6">privileges. Access control lists focus</tspan><tspan x="787" dy="3.6">on objects and which subjects can</tspan><tspan x="787" dy="3.6">access them.</tspan></text><rect class="pc" x="842" y="610.3" width="2.6" height="2.6"/></g>
<g id="n-captables2"><rect class="n" x="795" y="634" width="51" height="13.8" rx="1"/><text class="t" x="797" y="637.9">Capability tables list subjects<tspan x="797" dy="3.6">and what objects they can</tspan><tspan x="797" dy="3.6">access.</tspan></text><rect class="pc" x="842" y="635.3" width="2.6" height="2.6"/></g>
<g id="n-esp-sscp"><rect class="n" x="847" y="526" width="62" height="33" rx="1"/><text class="t" x="849" y="529.9">The Encapsulating Security Payload<tspan x="849" dy="3.6">(ESP) protocol provides confidentiality</tspan><tspan x="849" dy="3.6">and integrity for packet contents. It</tspan><tspan x="849" dy="3.6">encrypts packet payloads and</tspan><tspan x="849" dy="3.6">provides limited authentication and</tspan><tspan x="849" dy="3.6">protection against replay attacks.</tspan></text><rect x="849" y="551.5" width="8" height="5" rx=".8" fill="#1f9a6a"/><text class="t" x="850" y="555.2" style="font-size:2.7px">ESP</text><rect class="pm" x="905" y="527.3" width="2.6" height="2.6"/></g>
<g id="n-transport"><rect class="n" x="865" y="563" width="45" height="13.8" rx="1"/><text class="t" x="867" y="566.9">Transport mode does not<tspan x="867" dy="3.6">encrypt the header of the</tspan><tspan x="867" dy="3.6">packet.</tspan></text><rect class="pm" x="906" y="564.3" width="2.6" height="2.6"/></g>
<g id="n-ah-sscp"><rect class="n" x="848" y="581" width="60" height="17.4" rx="1"/><text class="t" x="850" y="584.9">The Authentication Header provides<tspan x="850" dy="3.6">authentication, integrity, and</tspan><tspan x="850" dy="3.6">nonrepudiation for IPsec</tspan><tspan x="850" dy="3.6">connections.</tspan></text><rect class="pc" x="904" y="582.3" width="2.6" height="2.6"/></g>
<g id="n-hips"><rect class="n" x="921" y="488" width="59" height="17.4" rx="1"/><text class="t" x="923" y="491.9">A host intrusion prevention system<tspan x="923" dy="3.6">(HIPS) is a security approach that</tspan><tspan x="923" dy="3.6">uses third-party software to identify</tspan><tspan x="923" dy="3.6">and prevent malicious activities.</tspan></text><rect class="pc" x="976" y="489.3" width="2.6" height="2.6"/></g>
<g id="n-nids-sscp"><rect class="n" x="921" y="510" width="47" height="10.2" rx="1"/><text class="t" x="923" y="513.9">Network intrusion<tspan x="923" dy="3.6">detection systems (NIDS)</tspan></text><rect class="pc" x="964" y="511.3" width="2.6" height="2.6"/></g>
<g id="n-tls"><rect class="n" x="921" y="525" width="59" height="13.8" rx="1"/><text class="t" x="923" y="528.9">In TLS, both the server and the<tspan x="923" dy="3.6">client first communicate using an</tspan><tspan x="923" dy="3.6">ephemeral symmetric session key.</tspan></text><rect class="pm" x="976" y="526.3" width="2.6" height="2.6"/></g>
<g id="n-ssl"><rect x="932" y="544" width="47" height="10.2" rx="1" fill="#c41818"/><text class="t" x="934" y="547.9" style="fill:#fff">SSL not considered secure,<tspan x="934" dy="3.6">use TLS for data in motion.</tspan></text><rect class="pm" x="975" y="545.3" width="2.6" height="2.6"/></g>
<g id="n-applogs"><rect class="n" x="920" y="560" width="62" height="6.5" rx="1"/><text class="t" x="922" y="564.2">Application logs = software analysis.</text></g>
<g id="n-4g"><rect class="n" x="916" y="572" width="67" height="13.8" rx="1"/><text class="t" x="918" y="575.9">4G networks encrypt traffic between the<tspan x="918" dy="3.6">cellular device and the base station but do</tspan><tspan x="918" dy="3.6">not provide encryption after that point.</tspan></text></g>
<g id="n-syslog"><rect class="n" x="915" y="593" width="63" height="13.8" rx="1"/><text class="t" x="917" y="596.9">Syslog severity levels include:<tspan x="917" dy="3.6">debug, informational, notice, warning,</tspan><tspan x="917" dy="3.6">error, critical, alert, and emergency.</tspan></text><rect class="pm" x="974" y="594.3" width="2.6" height="2.6"/></g>
<g id="n-syslogport"><rect class="n" x="925" y="610" width="53" height="13.8" rx="1"/><text class="t" x="927" y="613.9">Syslog uses UDP port 514.<tspan x="927" dy="3.6">TCP-based implementations of</tspan><tspan x="927" dy="3.6">syslog typically use port 6514.</tspan></text><rect class="pm" x="974" y="611.3" width="2.6" height="2.6"/></g>
<rect x="990" y="474" width="10" height="22" fill="#8a5a10" fill-opacity=".9"/>
<g id="n-edge1"><rect class="n" x="990" y="555" width="14" height="17" rx="1"/><text class="t" x="992" y="558.9">In a pl<tspan x="992" dy="3.6">custo</tspan></text></g>
<g id="n-edge2"><rect class="n" x="990" y="576" width="14" height="17" rx="1"/><text class="t" x="992" y="579.9">Becau<tspan x="992" dy="3.6">many</tspan></text></g>
<g id="n-edge3"><rect class="n" x="990" y="598" width="14" height="22" rx="1"/><text class="t" x="992" y="601.9">Sessi<tspan x="992" dy="3.6">acco</tspan></text></g>
<g id="n-edge4"><rect class="n" x="990" y="627" width="14" height="27" rx="1"/><text class="t" x="992" y="630.9">The S</text></g>

<!-- ================= BOTTOM ================= -->
<g id="pentest-plus"><rect class="grp" x="19" y="670" width="406" height="50" rx="1.5" fill="#5e1014"/><rect x="20" y="672" width="21" height="7" rx="1" fill="#c41c2a"/><text class="b" x="21.3" y="677">PenTest+</text></g>
<g id="process"><rect class="grp" x="23" y="683" width="64" height="40" rx="1.5" fill="#8a4a10"/><rect x="24" y="684" width="17" height="6.5" rx="1" fill="#d08a12"/><text class="b" x="25.3" y="688.8" style="fill:#f8e040">Process</text></g>
<g id="n-planning"><rect class="n" x="27" y="694" width="41" height="6.5" rx="1"/><text class="t" x="29" y="698.2">1. Planning and scoping</text><rect class="pg" x="64" y="695" width="2.6" height="2.6"/></g>
<g id="n-infogather"><rect class="n" x="27" y="704" width="43" height="12" rx="1"/><text class="t" x="29" y="707.9">2. Information gathering and<tspan x="29" dy="3.6">vulnerability scanning.</tspan></text><rect class="pg" x="66" y="705.3" width="2.6" height="2.6"/></g>
<g id="pci-dss"><rect class="grp" x="97" y="684" width="141" height="40" rx="1.5" fill="#8a1a6a"/><rect x="98" y="685" width="18" height="7" rx="1" fill="#c41cb4"/><text class="b" x="99.3" y="690">PCI/DSS</text></g>
<g id="n-level1"><rect class="n" x="100" y="697" width="58" height="10.2" rx="1"/><text class="t" x="102" y="700.9">Level 1 = large merchant with over<tspan x="102" dy="3.6">six million transactions a year.</tspan></text><rect class="pm" x="154" y="698.3" width="2.6" height="2.6"/></g>
<g id="n-level2"><rect class="n" x="105" y="711" width="60" height="8" rx="1"/><text class="t" x="107" y="714.6">Level 2 = merchant with one to six</text></g>
<g id="standards-pentest"><rect class="grp" x="243" y="677" width="107" height="45" rx="1.5" fill="#8a5a10"/><rect x="246" y="678" width="22" height="6.5" rx="1" fill="#d8b418"/><text class="bk" x="247.3" y="682.8">Standards</text></g>
<g id="n-ptes"><rect class="n" x="246" y="688" width="92" height="28" rx="1"/><text class="t" x="248" y="691.9">Penetration Testing Execution Standard (PTES) = Provides<tspan x="248" dy="3.6">a comprehensive overview of the proper structure of a</tspan><tspan x="248" dy="3.6">complete PT. Some of the sections include details on</tspan><tspan x="248" dy="3.6">topics such as pre-engagement interactions, threat</tspan><tspan x="248" dy="3.6">modeling, vulnerability analysis, exploitation, and</tspan><tspan x="248" dy="3.6">reporting.</tspan></text></g>
<g id="secops-cap"><rect class="grp" x="438" y="670" width="204" height="50" rx="1.5" fill="#7a1a70"/><rect x="439" y="671" width="38" height="7" rx="1" fill="#c41cb4"/><text class="b" x="440.3" y="676">SecOps Group CAP</text></g>
<g id="n-cap"><rect class="n" x="441" y="681" width="44" height="36" rx="1"/><text class="t" x="443" y="684.9">Primary reference:</text><rect x="443" y="687" width="40" height="21" fill="url(#card)"/><text class="t" x="445" y="691" style="font-size:2px;fill:#8a96b0">CERTIFICATION</text><text class="t" x="445" y="699" style="font-size:2.9px;fill:#3a56c8">Certified AppSec<tspan x="445" dy="3.3">Practitioner (CAP)</tspan></text><rect x="443.5" y="709.5" width="2.6" height="2.6" fill="none" stroke="#ccc" stroke-width=".4"/><text class="t" x="447.5" y="712.2">Certified Appsec</text></g>

<!-- ================= CONNECTORS ================= -->
<g id="connectors">
<path class="c cm" d="M317 61 C330 64 330 74 321 76"/>
<path class="c cm" d="M317 61 C333 66 331 90 321 94"/>
<path class="c cm" d="M320 115 C327 114 329 109 321.5 106.5"/>
<path class="c cy" d="M321.5 106.5 C335 110 332 126 312 128.5"/>
<path class="c cy" d="M443 52 C452 55 449 61 430 61"/>
<path class="c cm" d="M558.5 49.5 C568 55 552 62 535.5 59.5"/>
<path class="c cm" d="M558.5 49.5 C570 60 550 76 535.5 80.5"/>
<path class="c cm" d="M558.5 49.5 C572 70 548 100 532.5 105.5"/>
<path class="c cm" d="M558.5 49.5 C574 80 550 112 533.5 118.5"/>
<path class="c cy" d="M196.5 186.5 C208 192 207 208 190 214.8"/>
<path class="c cy" d="M196.5 223.5 C206 226 206 236 200 240"/>
<path class="c cc" d="M99.5 236.5 C125 236 150 234 175 239"/>
<path class="c cm" d="M318 182.5 C330 188 310 198 291 201.5"/>
<path class="c cb" d="M291 201.5 C300 206 302 216 293.5 220.5"/>
<path class="c cy" d="M293.5 220.5 C302 222 306 224 310 225.8"/>
<path class="c cc" d="M566.5 172.5 C580 176 580 186 569.5 185.5"/>
<path class="c cg" d="M569.5 185.5 C580 190 576 198 564.5 200.3"/>
<path class="c cg" d="M564.5 200.3 C572 203 570 208 560.5 209.5"/>
<path class="c cr" d="M569 303.5 C574 312 566 320 555.5 325.5"/>
<path class="c cr" d="M569 303.5 C576 322 572 338 563.5 344.5"/>
<path class="c cy" d="M569 303.5 C582 322 578 352 566.5 368.5"/>
<path class="c cm" d="M525 501.5 C536 503 544 512 549 522.5"/>
<path class="c cm" d="M525 501.5 C542 508 554 534 550 548.5"/>
<path class="c cm" d="M525 501.5 C548 512 556 556 547 571.5"/>
<path class="c cm" d="M83.5 303.4 C92 308 88 312 71.5 313.6"/>
<path class="c cm" d="M83.5 303.4 C95 312 88 326 71.5 330.6"/>
<path class="c cm" d="M150.5 303.4 C160 308 156 312 145.5 313.6"/>
<path class="c cm" d="M150.5 303.4 C162 312 156 326 145.5 330.6"/>
<path class="c cm" d="M88.5 346.4 C95 350 86 355 70.5 355.5"/>
<path class="c cm" d="M88.5 346.4 C99 355 88 364 70.5 365.5"/>
<path class="c cm" d="M88.5 346.4 C101 360 92 372 81.5 374.6"/>
<path class="c cm" d="M131.5 352.4 C140 356 147 360 142.5 366.6"/>
<path class="c cy" d="M142.5 366.6 C154 372 150 380 140 380.8"/>
<path class="c cm" d="M226.5 302.6 C236 306 234 316 223.5 317.6"/>
<path class="c cc" d="M226.5 302.6 C240 312 236 326 226.5 332.6"/>
<path class="c cc" d="M226.5 332.6 C236 338 236 346 226.5 348.6"/>
<path class="c cc" d="M227.5 371.6 C237 378 236 386 227.5 388.6"/>
<path class="c cc" d="M227.5 388.6 C237 394 236 402 227.5 404.6"/>
<path class="c cc" d="M204.5 430.6 C216 434 220 438 218.5 442.6"/>
<path class="c cc" d="M218.5 442.6 C228 448 234 454 231.5 459.6"/>
<path class="c cc" d="M37.5 415.4 C55 425 70 440 81.5 449.6"/>
<path class="c cc" d="M81.5 449.6 C95 444 108 440 118 436.5"/>
<path class="c cm" d="M88.5 415.4 C96 417 102 420 104.5 425"/>
<path class="c cm" d="M141.5 414.4 C150 416 156 420 159.5 425"/>
<path class="c cy" d="M82.5 451 C92 456 90 466 76 468.8"/>
<path class="c cc" d="M91.5 495.6 C102 500 100 508 83.5 509.4"/>
<path class="c cc" d="M108.5 519.6 C114 528 100 535 83.5 537.4"/>
<path class="c cc" d="M96.5 547.6 C106 552 104 562 85.5 564.4"/>
<path class="c cg" d="M187.5 519.6 C197 524 196 535 185.5 537.6"/>
<path class="c cc" d="M73.5 585.6 C84 590 86 594 80.5 598.6"/>
<path class="c cr" d="M80.5 599.6 C92 604 92 610 86.5 613.6"/>
<path class="c cm" d="M326.5 253.6 C338 258 332 270 313.5 270.6"/>
<path class="c cm" d="M313.5 270.6 C330 274 330 290 317.5 291.6"/>
<path class="c cc" d="M326.5 253.6 C336 262 334 286 317.5 291.6"/>
<path class="c cc" d="M326.5 351.6 C336 358 336 370 326.5 374.6"/>
<path class="c cy" d="M326.5 429.6 C336 436 332 450 316 452.8"/>
<path class="c cm" d="M403.5 253.6 C414 258 406 270 381.5 272.3"/>
<path class="c cm" d="M405.5 283.6 C418 290 406 298 382.5 300.3"/>
<path class="c cm" d="M381.5 316.3 C390 318 388 324 376.5 326.3"/>
<path class="c cm" d="M435.5 315.6 C444 320 442 328 428.5 329.3"/>
<path class="c cc" d="M423.5 454.6 C434 462 432 472 419.5 478.6"/>
<path class="c cr" d="M335.5 513.6 C342 520 336 528 325.5 530.6"/>
<path class="c cy" d="M335.5 513.6 C344 524 338 538 328.5 544.6"/>
<path class="c cy" d="M335.5 513.6 C348 530 344 552 335.5 563.6"/>
<path class="c cm" d="M354 583.6 C366 590 364 600 356.5 605.6"/>
<path class="c cy" d="M408.5 592.6 C420 594 424 602 410 606"/>
<path class="c cy" d="M408.5 592.6 C418 598 414 606 394 606.8"/>
<path class="c cc" d="M453.5 622.6 C464 628 462 636 453.5 640.6"/>
<path class="c cm" d="M651.5 46.3 C662 50 660 56 643.5 56.3"/>
<path class="c cc" d="M643.5 56.3 C662 58 662 64 651.5 66.3"/>
<path class="c cc" d="M651.5 66.3 C662 69 662 74 651.5 75.3"/>
<path class="c cc" d="M651.5 85.3 C662 88 662 93 651.5 95.3"/>
<path class="c cm" d="M660.5 107.6 C670 112 668 124 653.5 125.6"/>
<path class="c cw" d="M742.5 45.6 C755 50 755 62 742.5 67.6"/>
<path class="c cm" d="M736.5 98.6 C748 104 746 116 735.5 119.6"/>
<path class="c cm" d="M821.5 41.3 C834 45 830 50 808.5 50.6"/>
<path class="c cm" d="M821.5 41.3 C836 48 830 64 806.5 68.3"/>
<path class="c cm" d="M821.5 41.3 C838 52 834 74 825.5 77.6"/>
<path class="c cb" d="M825.5 77.6 C836 82 830 92 816.5 94.3"/>
<path class="c cb" d="M825.5 77.6 C838 85 830 100 817.5 103.6"/>
<path class="c cb" d="M825.5 77.6 C850 82 870 88 890.5 93.3"/>
<path class="c cc" d="M895.5 44.6 C906 48 906 58 896.5 61.6"/>
<path class="c cc" d="M896.5 61.6 C906 64 906 72 891.5 74.6"/>
<path class="c cc" d="M905.5 145.6 C914 152 912 162 900.5 167.6"/>
<path class="c cm" d="M900.5 167.6 C910 172 908 180 897.5 182.6"/>
<path class="c cy" d="M825.5 199.6 C834 204 832 216 812 218.8"/>
<path class="c cm" d="M625.5 165.4 C640 168 648 172 657.5 175.6"/>
<path class="c cm" d="M625.5 165.4 C645 172 650 185 657.5 189.6"/>
<path class="c cm" d="M625.5 165.4 C648 178 652 200 657.5 207.6"/>
<path class="c cm" d="M687.5 165.4 C702 168 710 172 718.5 175.6"/>
<path class="c cm" d="M687.5 165.4 C706 172 712 185 718.5 189.6"/>
<path class="c cm" d="M687.5 165.4 C710 178 714 200 718.5 207.6"/>
<path class="c cm" d="M625.5 249.4 C640 252 646 256 652.5 260.6"/>
<path class="c cm" d="M625.5 249.4 C644 256 650 268 655.5 274.6"/>
<path class="c cm" d="M625.5 249.4 C648 262 652 284 655.5 295.6"/>
<path class="c cm" d="M683.5 249.4 C698 252 708 256 714.5 260.6"/>
<path class="c cm" d="M683.5 249.4 C704 256 712 268 719.5 274.6"/>
<path class="c cm" d="M683.5 249.4 C708 262 714 284 719.5 295.6"/>
<path class="c cc" d="M658.5 387.6 C670 392 668 408 655.5 412.6"/>
<path class="c cc" d="M719.5 412.6 C730 418 730 425 723.5 429.6"/>
<path class="c cc" d="M723.5 429.6 C730 434 728 439 716.5 442.6"/>
<path class="c cc" d="M716.5 442.6 C728 446 730 452 726.5 457.6"/>
<path class="c cm" d="M803.5 255.6 C816 262 812 276 805.5 282.6"/>
<path class="c cm" d="M803.5 255.6 C818 266 816 288 813.5 297.6"/>
<path class="c cm" d="M803.5 255.6 C822 280 818 320 810.5 331.6"/>
<path class="c cm" d="M803.5 255.6 C824 290 820 340 810.5 348.6"/>
<path class="c cy" d="M796.5 386.6 C806 392 804 400 791 403.3"/>
<path class="c cc" d="M901.5 246.6 C912 252 910 262 895.5 268.6"/>
<path class="c cc" d="M895.5 268.6 C910 275 910 285 901.5 291.6"/>
<path class="c cc" d="M901.5 291.6 C912 300 906 312 881.5 313.3"/>
<path class="c cm" d="M887.5 342.6 C898 350 896 362 878.5 364.6"/>
<path class="c cm" d="M891.5 393.6 C902 402 900 414 891.5 418.6"/>
<path class="c cc" d="M957.5 421.6 C966 425 966 430 963.5 433.6"/>
<path class="c cc" d="M963.5 433.6 C970 438 970 442 963.5 446.6"/>
<path class="c cc" d="M963.5 446.6 C972 450 974 454 971.5 459.6"/>
<path class="c cc" d="M971.5 459.6 C980 464 980 468 971.5 472.6"/>
<path class="c cc" d="M796.5 432.6 C806 438 804 446 794.5 450.6"/>
<path class="c cc" d="M794.5 450.6 C806 455 804 461 797.5 464.6"/>
<path class="c cc" d="M661.5 491.6 C672 498 670 508 661.5 513.6"/>
<path class="c cc" d="M661.5 513.6 C672 518 670 526 657.5 530.6"/>
<path class="c cc" d="M657.5 530.6 C668 536 672 542 668.5 548.6"/>
<path class="c cc" d="M677.5 583.6 C686 588 686 596 680 600"/>
<path class="c cc" d="M664 612 C661 615 659 617 654.5 618.6"/>
<path class="c cc" d="M826.5 484.6 C836 492 834 504 822.5 509.6"/>
<path class="c cm" d="M834.5 542.6 C845 550 843 560 834.5 565.6"/>
<path class="c cc" d="M844.5 611.6 C854 620 852 630 844.5 636.6"/>
<path class="c cm" d="M907.5 528.6 C918 540 916 556 908.5 565.6"/>
<path class="c cc" d="M913 550 C914 566 912 578 906.5 583.6"/>
<path class="c cc" d="M978.5 490.6 C988 496 986 506 966.5 512.6"/>
<path class="c cm" d="M978.5 527.6 C988 534 986 542 977.5 546.6"/>
<path class="c cm" d="M976.5 595.6 C988 602 986 610 976.5 612.6"/>
<path class="c cg" d="M66.5 696.3 C76 699 75 704 68.5 706.6"/>
<path class="c cm" d="M156.5 699.6 C190 704 220 710 240 716"/>
</g>
</svg>
